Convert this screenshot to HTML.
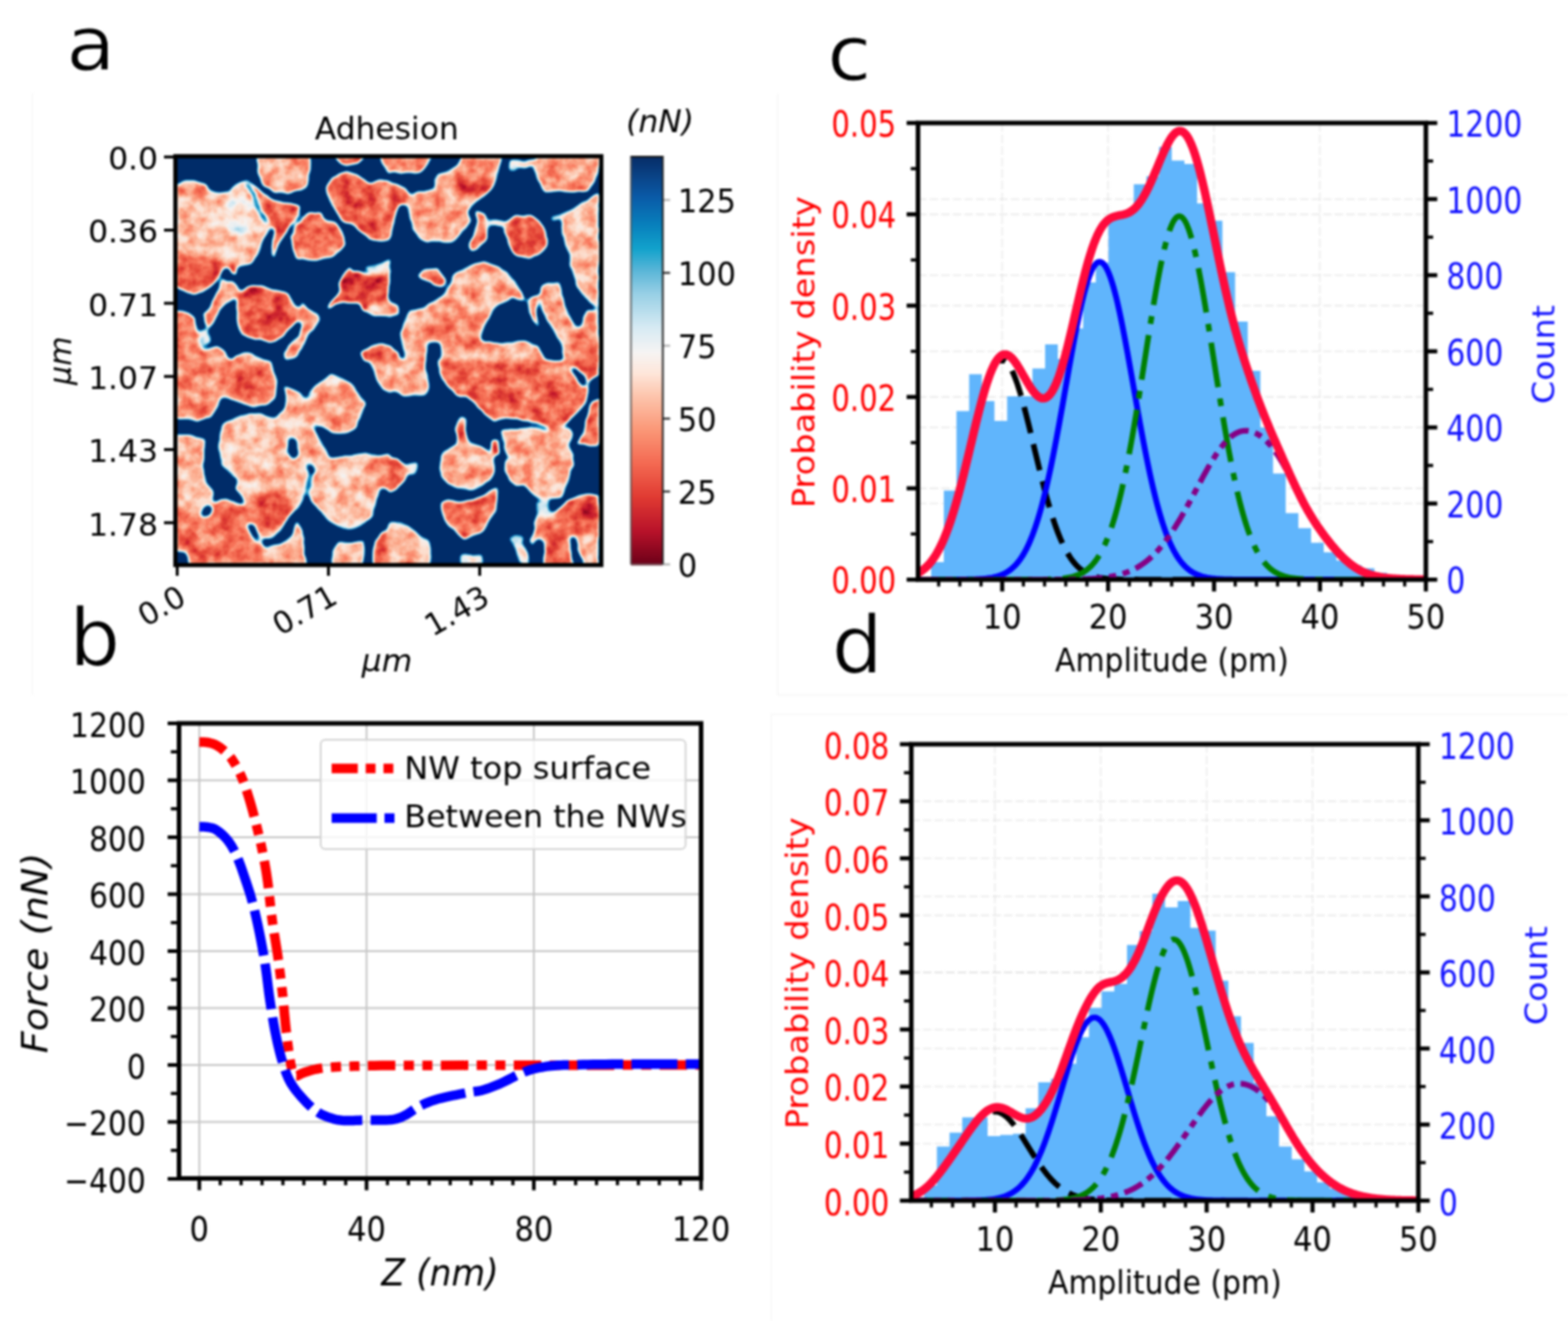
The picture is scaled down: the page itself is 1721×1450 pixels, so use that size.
<!DOCTYPE html>
<html lang="en"><head><meta charset="utf-8"><title>Figure</title>
<style>
html,body{margin:0;padding:0;background:#fff;}
body{width:1721px;height:1450px;overflow:hidden;font-family:'DejaVu Sans','Liberation Sans',sans-serif;}
svg{display:block;filter:blur(0.8px);}
</style></head><body>
<svg width="1721" height="1450" viewBox="0 0 1721 1450">
<g id="panel-borders" fill="none" stroke="#f6f6f6" stroke-width="1.5"><path d="M35.5 762.5 L35.5 102.5 M853.6 102.5 L853.6 762.7 L1721 762.7 M1721 784.2 L846.5 784.2 L846.5 1450"/></g>
<g id="panel-a">
<text transform="translate(72.7,77) scale(1,0.94)" font-family="'DejaVu Sans','Liberation Sans',sans-serif" font-size="88" text-anchor="start" fill="#000" stroke="#fff" stroke-width="1">a</text>
<rect x="193" y="172" width="466.5" height="447.5" fill="#08306b"/>
<defs>
<filter id="hm" x="0" y="0" width="100%" height="100%" filterUnits="objectBoundingBox" color-interpolation-filters="sRGB">
<feColorMatrix in="SourceGraphic" type="matrix" values="1 0 0 0 0  1 0 0 0 0  1 0 0 0 0  0 0 0 0 1" result="v0"/>
<feGaussianBlur in="v0" stdDeviation="3.2" result="v"/>
<feColorMatrix in="SourceGraphic" type="matrix" values="0 1 0 0 0  0 1 0 0 0  0 1 0 0 0  0 0 0 0 1" result="m0"/>
<feTurbulence type="fractalNoise" baseFrequency="0.045" numOctaves="3" seed="7" result="dn"/>
<feDisplacementMap in="m0" in2="dn" scale="6" xChannelSelector="R" yChannelSelector="G" result="m1"/>
<feColorMatrix in="m1" type="matrix" values="1 0 0 0 0  1 0 0 0 0  1 0 0 0 0  0 0 0 0 1" result="m2"/>
<feGaussianBlur in="m2" stdDeviation="2.3" result="m"/>
<feTurbulence type="fractalNoise" baseFrequency="0.07" numOctaves="3" seed="11" result="tn"/>
<feColorMatrix in="tn" type="matrix" values="1 0 0 0 0  1 0 0 0 0  1 0 0 0 0  0 0 0 0 1" result="n"/>
<feComposite in="v" in2="n" operator="arithmetic" k1="0" k2="1" k3="0.23" k4="-0.115" result="vn"/>
<feComposite in="vn" in2="m" operator="arithmetic" k1="1" k2="0" k3="-1" k4="1" result="g"/>
<feComponentTransfer in="g">
<feFuncR type="table" tableValues="0.424 0.753 0.894 0.976 0.988 0.992 0.969 0.831 0.573 0.180 0.031 0.039 0.016 0.000 0.000 0.000 0.000 0.000 0.000 0.000 0.000"/>
<feFuncG type="table" tableValues="0.000 0.078 0.271 0.471 0.682 0.863 0.953 0.914 0.804 0.651 0.486 0.322 0.180 0.176 0.176 0.176 0.176 0.176 0.176 0.176 0.176"/>
<feFuncB type="table" tableValues="0.094 0.165 0.212 0.361 0.565 0.796 0.945 0.953 0.894 0.812 0.729 0.627 0.416 0.412 0.412 0.412 0.412 0.412 0.412 0.412 0.412"/>
</feComponentTransfer>
</filter>
<clipPath id="cliph"><rect x="193" y="172" width="466.5" height="447.5"/></clipPath>
<path id="hb0" d="M281.8,172 341.3,172 339.7,189 336.7,201.3 328.9,208.3 315,212.2 301.1,209.8 288.8,202.9 283.4,190.5Z"/>
<path id="hb1" d="M367.5,172 400,172 392.3,179 379.9,181.3 372.2,179Z"/>
<path id="hb2" d="M417,172 427,172 427,189 421.6,181.3Z"/>
<path id="hb3" d="M193,202.9 202.3,199.8 213.1,198.3 223.9,202.9 230.1,210.6 239.3,213.7 251.7,212.2 259.4,202.9 268.7,199 273.3,198.3 274.9,206 279.5,216.8 285.7,230.7 290.3,241.5 294.9,249.2 291.9,258.5 285.7,267.8 282.6,277 273.3,289.4 261,292.5 259.4,300.2 239.3,295.6 223.9,287.8 208.4,284.8 193,283.2Z"/>
<path id="hb4" d="M270.2,199 276.4,202.9 288.8,213.7 301.1,219.9 316.6,224.5 328.9,227.6 327.4,236.9 316.6,249.2 311.9,255.4 307.3,264.7 301.1,283.2 298.8,280.1 301.1,264.7 302.7,252.3 294.9,244.6 285.7,232.2 279.5,219.9 273.3,209.1Z"/>
<path id="hb5" d="M193,283.2 223.9,286.3 244,289.4 257.9,292.5 259.4,300.2 244,295.6 240.9,303.3 234.7,311 223.9,318.7 213.1,321.8 202.3,318.7 193,315.7Z"/>
<path id="hb6" d="M321.2,246.1 332,240 341.3,233.8 350.6,233.8 356.7,241.5 366,244.6 373.7,253.9 378.4,267.8 370.6,275.5 362.9,281.7 347.5,284.8 327.4,283.2 322.7,272.4 318.1,258.5Z"/>
<path id="hb7" d="M361.4,199.8 370.6,192.1 381.4,189.8 392.3,193.6 406.2,202.9 415.4,196.7 427,198.3 427,264.7 417,263.1 406.2,261.6 398.4,255.4 386.1,246.1 376.8,243.1 367.5,230.7 361.4,218.3 359.8,207.5Z"/>
<path id="hb8" d="M244,307.9 254.8,307.9 259.4,312.6 261,320.3 254.8,328 247.1,332.6 239.3,341.9 233.2,354.3 228.5,360.4 223.9,349.6 222.3,345 233.2,334.2 239.3,321.8Z"/>
<path id="hb9" d="M261,323.4 273.3,315.7 285.7,314.1 301.1,318.7 316.6,323.4 325.8,335.7 330.5,348.1 321.2,357.4 310.4,368.2 296.5,374.3 279.5,371.3 265.6,366.6 261,351.2 259.4,335.7Z"/>
<path id="hb10" d="M373.7,307.9 378.4,300.2 384.5,294 387.6,300.2 393.8,300.2 412.3,301.7 427,294 427,346.5 409.2,345 398.4,340.4 393.8,332.6 375.3,331.1 359.8,338.8 369.1,328 375.3,318.7 372.2,311Z"/>
<path id="hb11" d="M401.5,292.5 427,286.3 427,295.6 409.2,300.2Z"/>
<path id="hb12" d="M332,332.6 336.7,340.4 347.5,345 350.6,351.2 341.3,362 335.1,371.3 332,382.1 324.3,392.9 313.5,394.4 311.9,388.2 319.7,377.4 328.9,369.7 332,357.4 328.9,346.5Z"/>
<path id="hb13" d="M193,341.9 205.4,343.5 213.1,351.2 217.7,365.1 219.3,380.5 223.9,385.2 237.8,380.5 247.1,385.2 251.7,396 193,396Z"/>
<path id="hb14" d="M398.4,386.7 409.2,379 420.1,377.4 427,380.5 427,396 400,396Z"/>
<path id="hb15" d="M257.9,391.3 270.2,388.2 282.6,391.3 288.8,396 254.8,396Z"/>
<path id="hb16" d="M222.3,362 228.5,363.5 230.1,375.9 223.9,379Z"/>
<path id="hb17" d="M427,172 474.9,172 470.2,179.7 462.5,187.4 442.4,189 427,187.4Z"/>
<path id="hb18" d="M427,201.3 436.3,202.9 447.1,209.1 450.2,218.3 445.5,224.5 436.3,223 433.2,233.8 431.6,249.2 427,263.1Z"/>
<path id="hb19" d="M450.2,218.3 457.9,210.6 470.2,210.6 479.5,207.5 478,198.3 482.6,192.1 491.9,189 504.2,181.3 507.3,172 550.6,172 545.9,187.4 541.3,202.9 535.1,212.2 525.9,218.3 519.7,223 513.5,230.7 516.6,240 510.4,250.8 501.1,261.6 493.4,266.2 478,264.7 468.7,266.2 461,260 453.3,249.2 448.6,236.9 447.1,226.1Z"/>
<path id="hb20" d="M523.5,230.7 532,235.3 535.9,249.2 534.4,261.6 524.3,273.2 517.4,276.3 514.3,270.9 521.2,260 523.5,249.2 525.1,240Z"/>
<path id="hb21" d="M559.8,176.6 566,175.9 575.3,178.2 581.5,175.1 587.6,174.3 581.5,182.8 575.3,184.4 569.1,182.8 566,187.4 559.8,187.4Z"/>
<path id="hb22" d="M590.7,172 657.2,172 657.2,189 649.4,202.9 646.3,209.1 627.8,210.6 612.4,209.1 600,210.6 593.8,204.4 589.2,195.2 586.1,184.4Z"/>
<path id="hb23" d="M555.2,244.6 562.9,238.4 572.2,236.9 583,236.9 590.7,243.1 598.5,252.3 601.5,263.1 598.5,270.9 590.7,278.6 581.5,283.2 569.1,281.7 562.9,277 558.3,266.2 553.7,255.4Z"/>
<path id="hb24" d="M535.1,243.8 555.2,243.8 555.2,247.7 535.1,247.7Z"/>
<path id="hb25" d="M657.2,212.2 643.2,221.4 627.8,230.7 618.5,233.8 617,249.2 620.1,264.7 624.7,280.1 627.8,295.6 634,311 640.2,323.4 647.9,331.1 657.2,335.7Z"/>
<path id="hb26" d="M604.6,238.4 618.5,233.8 618.5,236.9 606.2,241.5Z"/>
<path id="hb27" d="M457.9,303.3 465.6,295.6 481.1,295.6 484.2,301.7 488.8,307.2 488,311.8 484.2,314.9 476.4,312.6 473.3,307.9 464.1,306.4Z"/>
<path id="hb28" d="M499.6,300.2 513.5,294 522.8,290.9 535.1,287.8 544.4,292.5 558.3,298.7 566,307.9 570.7,320.3 575.3,329.6 566,328 562.9,324.9 558.3,329.6 544.4,332.6 538.2,338.8 533.6,352.7 528.9,365.1 525.9,372.8 532,375.9 547.5,377.4 566,375.9 581.5,375.9 589.2,379 593.8,388.2 596.9,396 484.2,396 484.2,375.9 468.7,375.9 465.6,396 447.1,396 442.4,380.5 440.9,365.1 445.5,351.2 450.2,341.9 465.6,337.3 478,331.1 488.8,320.3 496.5,311Z"/>
<path id="hb29" d="M427,332.6 436.3,335.7 437.8,346.5 427,348.1Z"/>
<path id="hb30" d="M427,379 436.3,388.2 439.4,396 427,396Z"/>
<path id="hb31" d="M581.5,326.5 589.2,324.9 587.6,341.9 590.7,357.4 581.5,341.9 579.9,332.6Z"/>
<path id="hb32" d="M593.8,314.1 601.5,311 612.4,311 617,326.5 621.6,341.9 627.8,354.3 634,358.9 638.6,354.3 643.2,341.9 657.2,338.8 657.2,396 620.1,396 617,380.5 609.3,365.1 600,349.6 593.8,334.2 592.3,323.4Z"/>
<path id="hb33" d="M193,396 298,396 301.1,408.4 304.2,422.3 301.1,436.2 291.9,443.9 279.5,445.4 265.6,442.3 254.8,437.7 242.4,434.6 237.8,445.4 231.6,457.8 216.2,462.4 205.4,460.9 193,457.8Z"/>
<path id="hb34" d="M193,476.3 208.4,477.9 223.9,482.5 222.3,496.4 222.3,511.8 225.4,530.4 233.2,542.7 231.6,553.6 223.9,562.8 208.4,567.5 193,565.9Z"/>
<path id="hb35" d="M244,467.1 257.9,460.9 270.2,454.7 285.7,453.2 301.1,460.9 313.5,448.5 315,431.5 328.9,433.1 338.2,442.3 341.3,460.9 347.5,476.3 355.2,491.8 361.4,504.1 347.5,508.8 341.3,519.6 338.2,535 332,548.9 325.8,558.2 316.6,569 307.3,581.4 298,589.1 285.7,593.7 279.5,581.4 273.3,562.8 267.1,547.4 261,535 262.5,524.2 244,510.3 239.3,494.9 242.4,479.4Z"/>
<path id="hb36" d="M311.9,423.8 316.6,426.9 328.9,433.1 315,434.6Z"/>
<path id="hb37" d="M338.2,431.5 347.5,422.3 362.9,409.9 375.3,414.5 386.1,422.3 393.8,433.1 400,442.3 395.3,457.8 390.7,468.6 378.4,474.8 362.9,476.3 353.6,468.6 341.3,460.9 336.7,447Z"/>
<path id="hb38" d="M406.2,396 427,396 427,431.5 420.1,428.4 412.3,414.5Z"/>
<path id="hb39" d="M361.4,504.1 378.4,501 401.5,497.9 427,499.5 427,539.7 420.1,535 415.4,538.1 412.3,550.5 409.2,565.9 400,573.6 390.7,578.3 375.3,579.8 362.9,572.1 353.6,562.8 345.9,553.6 338.2,544.3 341.3,528.8 345.9,518 347.5,508.8Z"/>
<path id="hb40" d="M193,567.5 208.4,567.5 223.9,564.4 233.2,552 250.2,548.9 262.5,553.6 271.8,558.2 276.4,570.5 279.5,581.4 285.7,593.7 291.9,603 298,620 206.9,620 205.4,606.1 193,603Z"/>
<path id="hb41" d="M298,596.8 310.4,593.7 321.2,586 327.4,573.6 332,589.1 335.1,620 298,620 291.9,603Z"/>
<path id="hb42" d="M364.5,620 366,603 372.2,595.3 386.1,596.8 398.4,595.3 400,604.5 396.9,620Z"/>
<path id="hb43" d="M409.2,620 412.3,593.7 420.1,584.4 427,582.9 427,620Z"/>
<path id="hb44" d="M427,396 465.6,396 468.7,411.4 470.2,426.9 465.6,434.6 454.8,433.1 442.4,434.6 433.2,430 427,430Z"/>
<path id="hb45" d="M479.5,396 657.2,396 657.2,411.4 646.3,419.2 643.2,434.6 640.2,445.4 630.9,454.7 621.6,464 612.4,470.1 596.9,467.1 581.5,462.4 566,457.8 553.7,459.3 541.3,462.4 532,454.7 522.8,442.3 513.5,434.6 501.1,433.1 491.9,423.8 484.2,411.4Z"/>
<path id="hb46" d="M649.4,442.3 657.2,439.2 657.2,488.7 634,487.1 641.7,468.6 646.3,457.8Z"/>
<path id="hb47" d="M550.6,471.7 566,470.1 581.5,470.1 596.9,473.2 612.4,471.7 624.7,470.1 627.8,479.4 621.6,488.7 627.8,497.9 629.3,510.3 624.7,522.7 620.1,535 617,544.3 606.2,545.8 596.9,550.5 590.7,547.4 581.5,538.1 575.3,530.4 566,531.9 559.8,527.3 553.7,516.5 555.2,507.2 561.4,504.1 555.2,494.9 552.1,482.5Z"/>
<path id="hb48" d="M484.2,497.9 491.9,493.3 501.1,488.7 502.7,479.4 501.1,471.7 504.2,457.8 510.4,459.3 512,476.3 515,485.6 525.9,490.2 535.1,494.9 541.3,504.1 541.3,518 538.2,527.3 525.9,533.5 513.5,536.6 501.1,535 491.9,530.4 485.7,522.7 482.6,511.8Z"/>
<path id="hb49" d="M541.3,482.5 545.9,484 547.5,497.9 542.8,501 540.5,491.8Z"/>
<path id="hb50" d="M427,502.6 436.3,504.1 444,510.3 448.6,519.6 442.4,528.8 433.2,538.1 427,541.2Z"/>
<path id="hb51" d="M448.6,508.8 457.9,507.2 457.9,519.6 450.2,521.1Z"/>
<path id="hb52" d="M484.2,552 491.9,548.9 504.2,552 516.6,548.9 532,542.7 545.9,536.6 544.4,550.5 541.3,562.8 535.1,575.2 527.4,584.4 516.6,587.5 508.9,592.2 501.1,584.4 491.9,575.2 485.7,564.4Z"/>
<path id="hb53" d="M427,575.2 436.3,573.6 448.6,578.3 461,587.5 471.8,593.7 473.3,604.5 471.8,620 427,620Z"/>
<path id="hb54" d="M590.7,565.9 601.5,564.4 612.4,559.7 621.6,550.5 634,544.3 646.3,542.7 657.2,544.3 657.2,620 596.9,620 598.5,596.8 590.7,581.4 587.6,573.6Z"/>
<path id="hb55" d="M559.8,592.2 566,587.5 573.7,589.1 572.2,596.8 578.4,604.5 581.5,620 573.7,620 566,604.5Z"/>
<path id="hb56" d="M505.8,609.2 513.5,607.6 527.4,609.2 528.9,620 505.8,620Z"/>
<path id="hb57" d="M589.2,565.9 595.4,564.4 601.5,569 593.8,584.4 584.6,596.8 581.5,592.2 587.6,581.4Z"/>
<path id="hb58" d="M589.2,553.6 601.5,550.5 603.1,562.8 595.4,564.4 590.7,562.8Z"/>
</defs>
<g clip-path="url(#cliph)"><g filter="url(#hm)">
<rect x="163" y="142" width="526.5" height="507.5" fill="rgb(41,0,0)"/>
<use href="#hb0" fill="rgb(51,0,0)" stroke="rgb(51,0,0)" stroke-width="6"/>
<use href="#hb1" fill="rgb(27,0,0)" stroke="rgb(27,0,0)" stroke-width="6"/>
<use href="#hb2" fill="rgb(49,0,0)" stroke="rgb(49,0,0)" stroke-width="6"/>
<use href="#hb3" fill="rgb(57,0,0)" stroke="rgb(57,0,0)" stroke-width="6"/>
<use href="#hb4" fill="rgb(31,0,0)" stroke="rgb(31,0,0)" stroke-width="6"/>
<use href="#hb5" fill="rgb(31,0,0)" stroke="rgb(31,0,0)" stroke-width="6"/>
<use href="#hb6" fill="rgb(36,0,0)" stroke="rgb(36,0,0)" stroke-width="6"/>
<use href="#hb7" fill="rgb(33,0,0)" stroke="rgb(33,0,0)" stroke-width="6"/>
<use href="#hb8" fill="rgb(47,0,0)" stroke="rgb(47,0,0)" stroke-width="6"/>
<use href="#hb9" fill="rgb(30,0,0)" stroke="rgb(30,0,0)" stroke-width="6"/>
<use href="#hb10" fill="rgb(22,0,0)" stroke="rgb(22,0,0)" stroke-width="6"/>
<use href="#hb11" fill="rgb(76,0,0)" stroke="rgb(76,0,0)" stroke-width="6"/>
<use href="#hb12" fill="rgb(49,0,0)" stroke="rgb(49,0,0)" stroke-width="6"/>
<use href="#hb13" fill="rgb(39,0,0)" stroke="rgb(39,0,0)" stroke-width="6"/>
<use href="#hb14" fill="rgb(31,0,0)" stroke="rgb(31,0,0)" stroke-width="6"/>
<use href="#hb15" fill="rgb(44,0,0)" stroke="rgb(44,0,0)" stroke-width="6"/>
<use href="#hb16" fill="rgb(79,0,0)" stroke="rgb(79,0,0)" stroke-width="6"/>
<use href="#hb17" fill="rgb(44,0,0)" stroke="rgb(44,0,0)" stroke-width="6"/>
<use href="#hb18" fill="rgb(33,0,0)" stroke="rgb(33,0,0)" stroke-width="6"/>
<use href="#hb19" fill="rgb(49,0,0)" stroke="rgb(49,0,0)" stroke-width="6"/>
<use href="#hb20" fill="rgb(37,0,0)" stroke="rgb(37,0,0)" stroke-width="6"/>
<use href="#hb21" fill="rgb(76,0,0)" stroke="rgb(76,0,0)" stroke-width="6"/>
<use href="#hb22" fill="rgb(47,0,0)" stroke="rgb(47,0,0)" stroke-width="6"/>
<use href="#hb23" fill="rgb(27,0,0)" stroke="rgb(27,0,0)" stroke-width="6"/>
<use href="#hb24" fill="rgb(72,0,0)" stroke="rgb(72,0,0)" stroke-width="6"/>
<use href="#hb25" fill="rgb(54,0,0)" stroke="rgb(54,0,0)" stroke-width="6"/>
<use href="#hb26" fill="rgb(76,0,0)" stroke="rgb(76,0,0)" stroke-width="6"/>
<use href="#hb27" fill="rgb(42,0,0)" stroke="rgb(42,0,0)" stroke-width="6"/>
<use href="#hb28" fill="rgb(51,0,0)" stroke="rgb(51,0,0)" stroke-width="6"/>
<use href="#hb29" fill="rgb(39,0,0)" stroke="rgb(39,0,0)" stroke-width="6"/>
<use href="#hb30" fill="rgb(39,0,0)" stroke="rgb(39,0,0)" stroke-width="6"/>
<use href="#hb31" fill="rgb(38,0,0)" stroke="rgb(38,0,0)" stroke-width="6"/>
<use href="#hb32" fill="rgb(51,0,0)" stroke="rgb(51,0,0)" stroke-width="6"/>
<use href="#hb33" fill="rgb(44,0,0)" stroke="rgb(44,0,0)" stroke-width="6"/>
<use href="#hb34" fill="rgb(54,0,0)" stroke="rgb(54,0,0)" stroke-width="6"/>
<use href="#hb35" fill="rgb(57,0,0)" stroke="rgb(57,0,0)" stroke-width="6"/>
<use href="#hb36" fill="rgb(44,0,0)" stroke="rgb(44,0,0)" stroke-width="6"/>
<use href="#hb37" fill="rgb(47,0,0)" stroke="rgb(47,0,0)" stroke-width="6"/>
<use href="#hb38" fill="rgb(49,0,0)" stroke="rgb(49,0,0)" stroke-width="6"/>
<use href="#hb39" fill="rgb(57,0,0)" stroke="rgb(57,0,0)" stroke-width="6"/>
<use href="#hb40" fill="rgb(39,0,0)" stroke="rgb(39,0,0)" stroke-width="6"/>
<use href="#hb41" fill="rgb(51,0,0)" stroke="rgb(51,0,0)" stroke-width="6"/>
<use href="#hb42" fill="rgb(54,0,0)" stroke="rgb(54,0,0)" stroke-width="6"/>
<use href="#hb43" fill="rgb(33,0,0)" stroke="rgb(33,0,0)" stroke-width="6"/>
<use href="#hb44" fill="rgb(51,0,0)" stroke="rgb(51,0,0)" stroke-width="6"/>
<use href="#hb45" fill="rgb(35,0,0)" stroke="rgb(35,0,0)" stroke-width="6"/>
<use href="#hb46" fill="rgb(31,0,0)" stroke="rgb(31,0,0)" stroke-width="6"/>
<use href="#hb47" fill="rgb(51,0,0)" stroke="rgb(51,0,0)" stroke-width="6"/>
<use href="#hb48" fill="rgb(51,0,0)" stroke="rgb(51,0,0)" stroke-width="6"/>
<use href="#hb49" fill="rgb(24,0,0)" stroke="rgb(24,0,0)" stroke-width="6"/>
<use href="#hb50" fill="rgb(33,0,0)" stroke="rgb(33,0,0)" stroke-width="6"/>
<use href="#hb51" fill="rgb(74,0,0)" stroke="rgb(74,0,0)" stroke-width="6"/>
<use href="#hb52" fill="rgb(35,0,0)" stroke="rgb(35,0,0)" stroke-width="6"/>
<use href="#hb53" fill="rgb(54,0,0)" stroke="rgb(54,0,0)" stroke-width="6"/>
<use href="#hb54" fill="rgb(33,0,0)" stroke="rgb(33,0,0)" stroke-width="6"/>
<use href="#hb55" fill="rgb(76,0,0)" stroke="rgb(76,0,0)" stroke-width="6"/>
<use href="#hb56" fill="rgb(76,0,0)" stroke="rgb(76,0,0)" stroke-width="6"/>
<use href="#hb57" fill="rgb(44,0,0)" stroke="rgb(44,0,0)" stroke-width="6"/>
<use href="#hb58" fill="rgb(93,0,0)" stroke="rgb(93,0,0)" stroke-width="6"/>
<ellipse cx="208.4" cy="209.1" rx="15.4" ry="8.5" fill="rgb(39,0,0)"/>
<ellipse cx="262.5" cy="236.9" rx="20.1" ry="23.2" fill="rgb(74,0,0)"/>
<ellipse cx="415.4" cy="338.8" rx="12.4" ry="7" fill="rgb(70,0,0)"/>
<ellipse cx="519.7" cy="201.3" rx="20.1" ry="13.9" fill="rgb(31,0,0)"/>
<ellipse cx="496.5" cy="365.1" rx="30.9" ry="20.1" fill="rgb(42,0,0)"/>
<ellipse cx="640.2" cy="377.4" rx="15.4" ry="15.4" fill="rgb(38,0,0)"/>
<ellipse cx="273.3" cy="422.3" rx="23.2" ry="17" fill="rgb(31,0,0)"/>
<ellipse cx="298" cy="558.2" rx="23.2" ry="20.1" fill="rgb(27,0,0)"/>
<ellipse cx="339.7" cy="494.9" rx="10.8" ry="9.3" fill="rgb(38,0,0)"/>
<ellipse cx="367.5" cy="419.2" rx="9.3" ry="4.6" fill="rgb(93,0,0)"/>
<ellipse cx="341.3" cy="433.1" rx="6.2" ry="4.6" fill="rgb(93,0,0)"/>
<ellipse cx="413.9" cy="516.5" rx="13.9" ry="13.9" fill="rgb(42,0,0)"/>
<ellipse cx="251.7" cy="564.4" rx="18.5" ry="7.7" fill="rgb(31,0,0)"/>
<ellipse cx="213.1" cy="593.7" rx="7.7" ry="12.4" fill="rgb(31,0,0)"/>
<ellipse cx="612.4" cy="416.1" rx="18.5" ry="12.4" fill="rgb(39,0,0)"/>
<ellipse cx="506.5" cy="473.2" rx="5.9" ry="8.5" fill="rgb(9,0,0)"/>
<ellipse cx="641.7" cy="558.2" rx="7.7" ry="7.7" fill="rgb(16,0,0)"/>
<ellipse cx="646.3" cy="601.4" rx="10.8" ry="17" fill="rgb(57,0,0)"/>
<g style="mix-blend-mode:lighten" fill="rgb(0,255,0)" stroke="rgb(0,255,0)" stroke-width="3.8" stroke-linejoin="round">
<use href="#hb0"/>
<use href="#hb1"/>
<use href="#hb2"/>
<use href="#hb3"/>
<use href="#hb4"/>
<use href="#hb5"/>
<use href="#hb6"/>
<use href="#hb7"/>
<use href="#hb8"/>
<use href="#hb9"/>
<use href="#hb10"/>
<use href="#hb11"/>
<use href="#hb12"/>
<use href="#hb13"/>
<use href="#hb14"/>
<use href="#hb15"/>
<use href="#hb16"/>
<use href="#hb17"/>
<use href="#hb18"/>
<use href="#hb19"/>
<use href="#hb20"/>
<use href="#hb21"/>
<use href="#hb22"/>
<use href="#hb23"/>
<use href="#hb24"/>
<use href="#hb25"/>
<use href="#hb26"/>
<use href="#hb27"/>
<use href="#hb28"/>
<use href="#hb29"/>
<use href="#hb30"/>
<use href="#hb31"/>
<use href="#hb32"/>
<use href="#hb33"/>
<use href="#hb34"/>
<use href="#hb35"/>
<use href="#hb36"/>
<use href="#hb37"/>
<use href="#hb38"/>
<use href="#hb39"/>
<use href="#hb40"/>
<use href="#hb41"/>
<use href="#hb42"/>
<use href="#hb43"/>
<use href="#hb44"/>
<use href="#hb45"/>
<use href="#hb46"/>
<use href="#hb47"/>
<use href="#hb48"/>
<use href="#hb49"/>
<use href="#hb50"/>
<use href="#hb51"/>
<use href="#hb52"/>
<use href="#hb53"/>
<use href="#hb54"/>
<use href="#hb55"/>
<use href="#hb56"/>
<use href="#hb57"/>
<use href="#hb58"/>
</g>
<g style="mix-blend-mode:darken" fill="rgb(255,0,255)">
<path d="M245.5,297.1 251.7,295.6 254.8,303.3 251.7,307.9 246.3,306.4Z"/>
<path d="M317.3,250 328.2,238.1 331.2,240.3 322,246.5 319.4,257.7 315,256.6Z"/>
<path d="M269,201 271.2,200.1 279.5,218.3 287.2,233 293.7,244.3 291.9,245.5 285.1,234.1 277.3,219.3Z"/>
<path d="M318.1,482.5 324.3,482.5 325.8,497.9 321.2,504.1 316.6,496.4Z"/>
<path d="M336.7,510.3 342.8,511.8 345.9,518 341.3,519.6Z"/>
<path d="M340,518.8 342.2,519.6 339.1,535 334.5,550.5 332.6,549.7 337.3,534.2Z"/>
<path d="M222.3,559.7 230.1,553.6 231.6,559.7 227,565.9 220.8,567.5Z"/>
<path d="M271.8,576.7 276.4,576.7 282.6,586 285.7,595.3 281,592.2 274.9,582.9Z"/>
<path d="M288.8,592.2 301.1,589.1 313.5,578.3 319.7,567.5 322.7,575.2 319.7,586 310.4,593.7 298,596.8 290.3,596.8Z"/>
<path d="M626.3,403.7 632.4,405.3 641.7,413 643.2,422.3 638.6,422.3 632.4,413Z"/>
<path d="M627.8,589.1 632.4,590.6 634,604.5 640.2,620 629.3,620Z"/>
</g>
</g></g>
<rect x="192.5" y="171.5" width="467.5" height="448.7" fill="none" stroke="#000" stroke-width="4.6"/>
<text transform="translate(424.5,153.3)" font-family="'DejaVu Sans','Liberation Sans',sans-serif" font-size="34.4" text-anchor="middle" fill="#000">Adhesion</text>
<text transform="translate(724.5,144.5)" font-family="'DejaVu Sans','Liberation Sans',sans-serif" font-size="34.4" text-anchor="middle" fill="#000" font-style="italic">(nN)</text>
<line x1="180" y1="172.3" x2="193" y2="172.3" stroke="#000" stroke-width="3.2"/>
<text transform="translate(173.5,186.1)" font-family="'DejaVu Sans','Liberation Sans',sans-serif" font-size="34.5" text-anchor="end" fill="#000">0.0</text>
<line x1="180" y1="252.6" x2="193" y2="252.6" stroke="#000" stroke-width="3.2"/>
<text transform="translate(173.5,266.4)" font-family="'DejaVu Sans','Liberation Sans',sans-serif" font-size="34.5" text-anchor="end" fill="#000">0.36</text>
<line x1="180" y1="332.9" x2="193" y2="332.9" stroke="#000" stroke-width="3.2"/>
<text transform="translate(173.5,346.7)" font-family="'DejaVu Sans','Liberation Sans',sans-serif" font-size="34.5" text-anchor="end" fill="#000">0.71</text>
<line x1="180" y1="413.2" x2="193" y2="413.2" stroke="#000" stroke-width="3.2"/>
<text transform="translate(173.5,427)" font-family="'DejaVu Sans','Liberation Sans',sans-serif" font-size="34.5" text-anchor="end" fill="#000">1.07</text>
<line x1="180" y1="493.5" x2="193" y2="493.5" stroke="#000" stroke-width="3.2"/>
<text transform="translate(173.5,507.3)" font-family="'DejaVu Sans','Liberation Sans',sans-serif" font-size="34.5" text-anchor="end" fill="#000">1.43</text>
<line x1="180" y1="573.8" x2="193" y2="573.8" stroke="#000" stroke-width="3.2"/>
<text transform="translate(173.5,587.6)" font-family="'DejaVu Sans','Liberation Sans',sans-serif" font-size="34.5" text-anchor="end" fill="#000">1.78</text>
<line x1="194.5" y1="619.5" x2="194.5" y2="632" stroke="#000" stroke-width="3.2"/>
<text transform="translate(177,664.5) rotate(-30)" font-family="'DejaVu Sans','Liberation Sans',sans-serif" font-size="33.5" text-anchor="middle" fill="#000" dy="0.365em">0.0</text>
<line x1="360.5" y1="619.5" x2="360.5" y2="632" stroke="#000" stroke-width="3.2"/>
<text transform="translate(334,669) rotate(-30)" font-family="'DejaVu Sans','Liberation Sans',sans-serif" font-size="33.5" text-anchor="middle" fill="#000" dy="0.365em">0.71</text>
<line x1="526.5" y1="619.5" x2="526.5" y2="632" stroke="#000" stroke-width="3.2"/>
<text transform="translate(501,670) rotate(-30)" font-family="'DejaVu Sans','Liberation Sans',sans-serif" font-size="33.5" text-anchor="middle" fill="#000" dy="0.365em">1.43</text>
<text transform="translate(66.8,396) rotate(-90)" font-family="'DejaVu Sans','Liberation Sans',sans-serif" font-size="33" text-anchor="middle" fill="#000" font-style="italic" dy="0.35em">µm</text>
<text transform="translate(424.8,737.2)" font-family="'DejaVu Sans','Liberation Sans',sans-serif" font-size="34.4" text-anchor="middle" fill="#000" font-style="italic">µm</text>
<defs><linearGradient id="cb" x1="0" y1="1" x2="0" y2="0">
<stop offset="0" stop-color="#6a0018"/>
<stop offset="0.083" stop-color="#b8122a"/>
<stop offset="0.166" stop-color="#e03a32"/>
<stop offset="0.25" stop-color="#f46a52"/>
<stop offset="0.333" stop-color="#fb9878"/>
<stop offset="0.416" stop-color="#fdc6ae"/>
<stop offset="0.47" stop-color="#fee6da"/>
<stop offset="0.52" stop-color="#f6f4f3"/>
<stop offset="0.583" stop-color="#d6eaf3"/>
<stop offset="0.666" stop-color="#96cfe5"/>
<stop offset="0.72" stop-color="#5bb6d8"/>
<stop offset="0.775" stop-color="#12a2cc"/>
<stop offset="0.833" stop-color="#0880bc"/>
<stop offset="0.90" stop-color="#0a5ba8"/>
<stop offset="0.95" stop-color="#0a4488"/>
<stop offset="1" stop-color="#062c66"/>
</linearGradient></defs>
<rect x="692.5" y="172" width="34.5" height="448.5" fill="url(#cb)"/>
<path d="M692.5 619.5 L692.5 172 L727.5 172" fill="none" stroke="#444" stroke-width="2" stroke-opacity="0.75"/>
<path d="M692.5 172 L727.5 172 L727.5 619.5" fill="none" stroke="#111" stroke-width="2" stroke-opacity="0.9"/>
<path d="M692.5 619.5 L727.5 619.5" fill="none" stroke="#777" stroke-width="2" stroke-opacity="0.6"/>
<line x1="727.5" y1="619.5" x2="735.5" y2="619.5" stroke="#222" stroke-width="2.2" stroke-opacity="0.35"/>
<text transform="translate(744,632.9) scale(0.96,1)" font-family="'DejaVu Sans','Liberation Sans',sans-serif" font-size="34.8" text-anchor="start" fill="#000">0</text>
<line x1="727.5" y1="539.5" x2="735.5" y2="539.5" stroke="#222" stroke-width="2.2" stroke-opacity="0.95"/>
<text transform="translate(744,552.9) scale(0.96,1)" font-family="'DejaVu Sans','Liberation Sans',sans-serif" font-size="34.8" text-anchor="start" fill="#000">25</text>
<line x1="727.5" y1="459.5" x2="735.5" y2="459.5" stroke="#222" stroke-width="2.2" stroke-opacity="0.95"/>
<text transform="translate(744,472.9) scale(0.96,1)" font-family="'DejaVu Sans','Liberation Sans',sans-serif" font-size="34.8" text-anchor="start" fill="#000">50</text>
<line x1="727.5" y1="379.5" x2="735.5" y2="379.5" stroke="#222" stroke-width="2.2" stroke-opacity="0.35"/>
<text transform="translate(744,392.9) scale(0.96,1)" font-family="'DejaVu Sans','Liberation Sans',sans-serif" font-size="34.8" text-anchor="start" fill="#000">75</text>
<line x1="727.5" y1="299.5" x2="735.5" y2="299.5" stroke="#222" stroke-width="2.2" stroke-opacity="0.95"/>
<text transform="translate(744,312.9) scale(0.96,1)" font-family="'DejaVu Sans','Liberation Sans',sans-serif" font-size="34.8" text-anchor="start" fill="#000">100</text>
<line x1="727.5" y1="219.5" x2="735.5" y2="219.5" stroke="#222" stroke-width="2.2" stroke-opacity="0.35"/>
<text transform="translate(744,232.9) scale(0.96,1)" font-family="'DejaVu Sans','Liberation Sans',sans-serif" font-size="34.8" text-anchor="start" fill="#000">125</text>
</g>
<g id="panel-b">
<text transform="translate(76,729.8)" font-family="'DejaVu Sans','Liberation Sans',sans-serif" font-size="88" text-anchor="start" fill="#000" stroke="#fff" stroke-width="1">b</text>
<line x1="218.75" y1="794" x2="218.75" y2="1293.5" stroke="#c6c6c6" stroke-width="2"/>
<line x1="402.33" y1="794" x2="402.33" y2="1293.5" stroke="#c6c6c6" stroke-width="2"/>
<line x1="585.92" y1="794" x2="585.92" y2="1293.5" stroke="#c6c6c6" stroke-width="2"/>
<line x1="196.5" y1="1231.5" x2="769.5" y2="1231.5" stroke="#c6c6c6" stroke-width="2"/>
<line x1="196.5" y1="1169" x2="769.5" y2="1169" stroke="#c6c6c6" stroke-width="2"/>
<line x1="196.5" y1="1106.5" x2="769.5" y2="1106.5" stroke="#c6c6c6" stroke-width="2"/>
<line x1="196.5" y1="1044" x2="769.5" y2="1044" stroke="#c6c6c6" stroke-width="2"/>
<line x1="196.5" y1="981.5" x2="769.5" y2="981.5" stroke="#c6c6c6" stroke-width="2"/>
<line x1="196.5" y1="919" x2="769.5" y2="919" stroke="#c6c6c6" stroke-width="2"/>
<line x1="196.5" y1="856.5" x2="769.5" y2="856.5" stroke="#c6c6c6" stroke-width="2"/>
<clipPath id="clipb"><rect x="196.5" y="794" width="573" height="499.5"/></clipPath>
<g clip-path="url(#clipb)">
<path d="M218.75 814.5 L219.46 814.52 L220.41 814.53 L221.53 814.54 L222.78 814.56 L224.11 814.61 L225.45 814.69 L226.77 814.81 L228 815 L229.18 815.23 L230.36 815.48 L231.54 815.77 L232.73 816.09 L233.93 816.47 L235.12 816.91 L236.31 817.42 L237.5 818 L238.7 818.67 L239.91 819.42 L241.13 820.24 L242.34 821.12 L243.55 822.05 L244.73 823.02 L245.88 824 L247 825 L248.06 825.96 L249.06 826.89 L250.02 827.81 L250.97 828.78 L251.92 829.84 L252.89 831.04 L253.91 832.41 L255 834 L256.16 835.81 L257.39 837.8 L258.66 839.96 L259.95 842.25 L261.25 844.67 L262.54 847.2 L263.8 849.81 L265 852.5 L266.15 855.26 L267.28 858.12 L268.37 861.07 L269.45 864.12 L270.52 867.29 L271.59 870.57 L272.66 873.97 L273.75 877.5 L274.86 881.23 L276 885.2 L277.14 889.34 L278.28 893.56 L279.4 897.81 L280.49 902.02 L281.53 906.1 L282.5 910 L283.41 913.71 L284.27 917.28 L285.08 920.76 L285.86 924.19 L286.61 927.59 L287.33 931 L288.05 934.46 L288.75 938 L289.43 941.53 L290.09 944.96 L290.72 948.38 L291.33 951.84 L291.93 955.42 L292.53 959.18 L293.13 963.18 L293.75 967.5 L294.37 972.21 L294.97 977.27 L295.57 982.6 L296.17 988.09 L296.78 993.67 L297.41 999.25 L298.07 1004.72 L298.75 1010 L299.48 1015.12 L300.25 1020.18 L301.06 1025.18 L301.88 1030.16 L302.69 1035.11 L303.5 1040.06 L304.27 1045.02 L305 1050 L305.69 1055.01 L306.37 1060.05 L307.02 1065.09 L307.66 1070.12 L308.27 1075.15 L308.87 1080.14 L309.44 1085.1 L310 1090 L310.53 1094.9 L311.03 1099.83 L311.5 1104.75 L311.95 1109.62 L312.4 1114.42 L312.84 1119.11 L313.29 1123.65 L313.75 1128 L314.22 1132.21 L314.69 1136.34 L315.17 1140.36 L315.64 1144.25 L316.11 1147.98 L316.58 1151.53 L317.04 1154.88 L317.5 1158 L317.95 1160.91 L318.38 1163.65 L318.81 1166.2 L319.23 1168.56 L319.66 1170.73 L320.1 1172.7 L320.54 1174.45 L321 1176 L321.46 1177.3 L321.89 1178.35 L322.33 1179.18 L322.78 1179.81 L323.26 1180.28 L323.78 1180.62 L324.35 1180.85 L325 1181 L325.69 1181.01 L326.4 1180.84 L327.14 1180.5 L327.94 1180.06 L328.8 1179.55 L329.76 1179.01 L330.82 1178.48 L332 1178 L333.31 1177.54 L334.72 1177.04 L336.24 1176.51 L337.84 1175.97 L339.53 1175.43 L341.29 1174.92 L343.12 1174.44 L345 1174 L346.84 1173.61 L348.59 1173.25 L350.35 1172.91 L352.22 1172.59 L354.27 1172.3 L356.61 1172.02 L359.32 1171.75 L362.5 1171.5 L366.15 1171.26 L370.18 1171.03 L374.55 1170.82 L379.22 1170.62 L384.14 1170.45 L389.28 1170.28 L394.58 1170.13 L400 1170 L403.81 1169.89 L405.3 1169.8 L405.99 1169.74 L407.38 1169.69 L410.96 1169.64 L418.26 1169.6 L430.77 1169.56 L450 1169.5 L479.23 1169.43 L518.41 1169.36 L564.11 1169.29 L612.88 1169.22 L661.25 1169.15 L705.77 1169.09 L743.01 1169.04 L769.5 1169" fill="none" stroke="#ff0000" stroke-width="10.5" stroke-linejoin="round" stroke-dasharray="30.19 9.19 11.29 9.19 11.03 9.19"/>
<path d="M218.75 907.5 L219.46 907.52 L220.41 907.53 L221.53 907.54 L222.78 907.56 L224.11 907.61 L225.45 907.69 L226.77 907.81 L228 908 L229.16 908.2 L230.29 908.38 L231.41 908.57 L232.55 908.81 L233.71 909.14 L234.91 909.59 L236.17 910.2 L237.5 911 L238.94 911.99 L240.47 913.14 L242.08 914.43 L243.72 915.84 L245.36 917.37 L246.98 919 L248.54 920.72 L250 922.5 L251.37 924.33 L252.68 926.22 L253.93 928.18 L255.16 930.25 L256.36 932.44 L257.56 934.78 L258.77 937.29 L260 940 L261.27 942.98 L262.56 946.24 L263.86 949.71 L265.16 953.31 L266.43 956.97 L267.68 960.6 L268.87 964.14 L270 967.5 L271.06 970.65 L272.05 973.64 L273 976.53 L273.91 979.41 L274.8 982.32 L275.68 985.35 L276.58 988.55 L277.5 992 L278.45 995.7 L279.4 999.61 L280.37 1003.66 L281.33 1007.84 L282.28 1012.1 L283.21 1016.41 L284.12 1020.72 L285 1025 L285.85 1029.26 L286.68 1033.54 L287.49 1037.85 L288.28 1042.19 L289.05 1046.57 L289.8 1050.99 L290.54 1055.47 L291.25 1060 L291.93 1064.61 L292.56 1069.31 L293.16 1074.07 L293.75 1078.88 L294.34 1083.69 L294.94 1088.5 L295.57 1093.28 L296.25 1098 L296.96 1102.72 L297.7 1107.47 L298.45 1112.23 L299.22 1116.97 L300.01 1121.65 L300.82 1126.23 L301.65 1130.69 L302.5 1135 L303.37 1139.18 L304.26 1143.27 L305.17 1147.27 L306.09 1151.16 L307.04 1154.93 L308.01 1158.59 L308.99 1162.11 L310 1165.5 L311 1168.73 L311.98 1171.79 L312.97 1174.72 L313.98 1177.53 L315.05 1180.24 L316.18 1182.88 L317.41 1185.46 L318.75 1188 L320.22 1190.49 L321.81 1192.91 L323.49 1195.26 L325.23 1197.53 L327.03 1199.74 L328.86 1201.89 L330.69 1203.97 L332.5 1206 L334.32 1207.99 L336.16 1209.95 L338.03 1211.85 L339.92 1213.69 L341.82 1215.44 L343.72 1217.09 L345.62 1218.61 L347.5 1220 L349.38 1221.24 L351.25 1222.34 L353.12 1223.31 L355 1224.19 L356.88 1224.98 L358.75 1225.7 L360.62 1226.36 L362.5 1227 L364.32 1227.59 L366.07 1228.11 L367.8 1228.57 L369.53 1228.97 L371.33 1229.31 L373.22 1229.59 L375.27 1229.82 L377.5 1230 L379.9 1230.1 L382.42 1230.12 L385.06 1230.07 L387.81 1229.97 L390.68 1229.84 L393.67 1229.71 L396.78 1229.59 L400 1229.5 L403.49 1229.47 L407.32 1229.48 L411.36 1229.51 L415.47 1229.53 L419.52 1229.52 L423.38 1229.44 L426.92 1229.28 L430 1229 L432.59 1228.62 L434.8 1228.17 L436.72 1227.65 L438.44 1227.06 L440.03 1226.4 L441.6 1225.67 L443.23 1224.87 L445 1224 L446.84 1223.02 L448.63 1221.91 L450.41 1220.7 L452.19 1219.44 L454.01 1218.15 L455.9 1216.88 L457.89 1215.65 L460 1214.5 L462.18 1213.42 L464.36 1212.37 L466.58 1211.35 L468.91 1210.34 L471.36 1209.36 L474 1208.39 L476.87 1207.44 L480 1206.5 L483.57 1205.55 L487.6 1204.59 L491.93 1203.63 L496.41 1202.69 L500.86 1201.79 L505.14 1200.95 L509.07 1200.18 L512.5 1199.5 L515.39 1198.96 L517.87 1198.57 L520.05 1198.28 L522.03 1198.03 L523.91 1197.78 L525.8 1197.47 L527.8 1197.06 L530 1196.5 L532.38 1195.79 L534.82 1195 L537.32 1194.13 L539.84 1193.19 L542.39 1192.19 L544.94 1191.16 L547.48 1190.09 L550 1189 L552.53 1187.84 L555.12 1186.57 L557.72 1185.24 L560.31 1183.88 L562.87 1182.53 L565.35 1181.24 L567.74 1180.05 L570 1179 L572.08 1178.08 L573.98 1177.26 L575.77 1176.52 L577.5 1175.84 L579.23 1175.22 L581.02 1174.63 L582.92 1174.06 L585 1173.5 L587.23 1172.95 L589.53 1172.43 L591.91 1171.94 L594.38 1171.48 L596.91 1171.06 L599.53 1170.67 L602.23 1170.31 L605 1170 L607.71 1169.74 L610.31 1169.53 L612.91 1169.36 L615.62 1169.23 L618.57 1169.12 L621.88 1169.02 L625.64 1168.92 L630 1168.8 L634.78 1168.68 L639.82 1168.55 L645.18 1168.44 L650.97 1168.32 L657.26 1168.22 L664.14 1168.13 L671.69 1168.06 L680 1168 L689.91 1167.96 L701.7 1167.94 L714.6 1167.94 L727.88 1167.95 L740.76 1167.96 L752.49 1167.98 L762.33 1167.99 L769.5 1168" fill="none" stroke="#0000ff" stroke-width="10.5" stroke-linejoin="round" stroke-dasharray="50.49 9.06"/>
</g>
<rect x="352" y="812" width="400.5" height="120" rx="5" ry="5" fill="#fff" fill-opacity="0.8" stroke="#d4d4d4" stroke-width="2"/>
<line x1="364" y1="843.5" x2="433" y2="843.5" stroke="#ff0000" stroke-width="10.5" stroke-dasharray="28.7 8.7 10.8 8.7 10.8 8.7"/>
<line x1="364" y1="898" x2="433" y2="898" stroke="#0000ff" stroke-width="10.5" stroke-dasharray="49.5 8.5"/>
<text transform="translate(443.8,854.8) scale(1.04,1)" font-family="'DejaVu Sans','Liberation Sans',sans-serif" font-size="33.8" text-anchor="start" fill="#000">NW top surface</text>
<text transform="translate(443.8,907.8) scale(1.03,1)" font-family="'DejaVu Sans','Liberation Sans',sans-serif" font-size="33.8" text-anchor="start" fill="#000">Between the NWs</text>
<rect x="196.5" y="794" width="573" height="499.5" fill="none" stroke="#000" stroke-width="5"/>
<line x1="184" y1="1294" x2="196.5" y2="1294" stroke="#000" stroke-width="4"/>
<text transform="translate(160,1308.8) scale(0.86,1)" font-family="'DejaVu Sans','Liberation Sans',sans-serif" font-size="38" text-anchor="end" fill="#000">−400</text>
<line x1="187.5" y1="1262.75" x2="196.5" y2="1262.75" stroke="#000" stroke-width="3.5"/>
<line x1="184" y1="1231.5" x2="196.5" y2="1231.5" stroke="#000" stroke-width="4"/>
<text transform="translate(160,1246.3) scale(0.86,1)" font-family="'DejaVu Sans','Liberation Sans',sans-serif" font-size="38" text-anchor="end" fill="#000">−200</text>
<line x1="187.5" y1="1200.25" x2="196.5" y2="1200.25" stroke="#000" stroke-width="3.5"/>
<line x1="184" y1="1169" x2="196.5" y2="1169" stroke="#000" stroke-width="4"/>
<text transform="translate(160,1183.8) scale(0.86,1)" font-family="'DejaVu Sans','Liberation Sans',sans-serif" font-size="38" text-anchor="end" fill="#000">0</text>
<line x1="187.5" y1="1137.75" x2="196.5" y2="1137.75" stroke="#000" stroke-width="3.5"/>
<line x1="184" y1="1106.5" x2="196.5" y2="1106.5" stroke="#000" stroke-width="4"/>
<text transform="translate(160,1121.3) scale(0.86,1)" font-family="'DejaVu Sans','Liberation Sans',sans-serif" font-size="38" text-anchor="end" fill="#000">200</text>
<line x1="187.5" y1="1075.25" x2="196.5" y2="1075.25" stroke="#000" stroke-width="3.5"/>
<line x1="184" y1="1044" x2="196.5" y2="1044" stroke="#000" stroke-width="4"/>
<text transform="translate(160,1058.8) scale(0.86,1)" font-family="'DejaVu Sans','Liberation Sans',sans-serif" font-size="38" text-anchor="end" fill="#000">400</text>
<line x1="187.5" y1="1012.75" x2="196.5" y2="1012.75" stroke="#000" stroke-width="3.5"/>
<line x1="184" y1="981.5" x2="196.5" y2="981.5" stroke="#000" stroke-width="4"/>
<text transform="translate(160,996.3) scale(0.86,1)" font-family="'DejaVu Sans','Liberation Sans',sans-serif" font-size="38" text-anchor="end" fill="#000">600</text>
<line x1="187.5" y1="950.25" x2="196.5" y2="950.25" stroke="#000" stroke-width="3.5"/>
<line x1="184" y1="919" x2="196.5" y2="919" stroke="#000" stroke-width="4"/>
<text transform="translate(160,933.8) scale(0.86,1)" font-family="'DejaVu Sans','Liberation Sans',sans-serif" font-size="38" text-anchor="end" fill="#000">800</text>
<line x1="187.5" y1="887.75" x2="196.5" y2="887.75" stroke="#000" stroke-width="3.5"/>
<line x1="184" y1="856.5" x2="196.5" y2="856.5" stroke="#000" stroke-width="4"/>
<text transform="translate(160,871.3) scale(0.86,1)" font-family="'DejaVu Sans','Liberation Sans',sans-serif" font-size="38" text-anchor="end" fill="#000">1000</text>
<line x1="187.5" y1="825.25" x2="196.5" y2="825.25" stroke="#000" stroke-width="3.5"/>
<line x1="184" y1="794" x2="196.5" y2="794" stroke="#000" stroke-width="4"/>
<text transform="translate(160,808.8) scale(0.86,1)" font-family="'DejaVu Sans','Liberation Sans',sans-serif" font-size="38" text-anchor="end" fill="#000">1200</text>
<line x1="218.75" y1="1293.5" x2="218.75" y2="1306.5" stroke="#000" stroke-width="4"/>
<text transform="translate(218.75,1361.8) scale(0.9,1)" font-family="'DejaVu Sans','Liberation Sans',sans-serif" font-size="37.2" text-anchor="middle" fill="#000">0</text>
<line x1="241.7" y1="1293.5" x2="241.7" y2="1301" stroke="#000" stroke-width="3.5"/>
<line x1="264.65" y1="1293.5" x2="264.65" y2="1301" stroke="#000" stroke-width="3.5"/>
<line x1="287.59" y1="1293.5" x2="287.59" y2="1301" stroke="#000" stroke-width="3.5"/>
<line x1="310.54" y1="1293.5" x2="310.54" y2="1301" stroke="#000" stroke-width="3.5"/>
<line x1="333.49" y1="1293.5" x2="333.49" y2="1301" stroke="#000" stroke-width="3.5"/>
<line x1="356.44" y1="1293.5" x2="356.44" y2="1301" stroke="#000" stroke-width="3.5"/>
<line x1="379.39" y1="1293.5" x2="379.39" y2="1301" stroke="#000" stroke-width="3.5"/>
<line x1="402.33" y1="1293.5" x2="402.33" y2="1306.5" stroke="#000" stroke-width="4"/>
<text transform="translate(402.33,1361.8) scale(0.9,1)" font-family="'DejaVu Sans','Liberation Sans',sans-serif" font-size="37.2" text-anchor="middle" fill="#000">40</text>
<line x1="425.28" y1="1293.5" x2="425.28" y2="1301" stroke="#000" stroke-width="3.5"/>
<line x1="448.23" y1="1293.5" x2="448.23" y2="1301" stroke="#000" stroke-width="3.5"/>
<line x1="471.18" y1="1293.5" x2="471.18" y2="1301" stroke="#000" stroke-width="3.5"/>
<line x1="494.12" y1="1293.5" x2="494.12" y2="1301" stroke="#000" stroke-width="3.5"/>
<line x1="517.07" y1="1293.5" x2="517.07" y2="1301" stroke="#000" stroke-width="3.5"/>
<line x1="540.02" y1="1293.5" x2="540.02" y2="1301" stroke="#000" stroke-width="3.5"/>
<line x1="562.97" y1="1293.5" x2="562.97" y2="1301" stroke="#000" stroke-width="3.5"/>
<line x1="585.92" y1="1293.5" x2="585.92" y2="1306.5" stroke="#000" stroke-width="4"/>
<text transform="translate(585.92,1361.8) scale(0.9,1)" font-family="'DejaVu Sans','Liberation Sans',sans-serif" font-size="37.2" text-anchor="middle" fill="#000">80</text>
<line x1="608.86" y1="1293.5" x2="608.86" y2="1301" stroke="#000" stroke-width="3.5"/>
<line x1="631.81" y1="1293.5" x2="631.81" y2="1301" stroke="#000" stroke-width="3.5"/>
<line x1="654.76" y1="1293.5" x2="654.76" y2="1301" stroke="#000" stroke-width="3.5"/>
<line x1="677.71" y1="1293.5" x2="677.71" y2="1301" stroke="#000" stroke-width="3.5"/>
<line x1="700.66" y1="1293.5" x2="700.66" y2="1301" stroke="#000" stroke-width="3.5"/>
<line x1="723.6" y1="1293.5" x2="723.6" y2="1301" stroke="#000" stroke-width="3.5"/>
<line x1="746.55" y1="1293.5" x2="746.55" y2="1301" stroke="#000" stroke-width="3.5"/>
<line x1="769.5" y1="1293.5" x2="769.5" y2="1306.5" stroke="#000" stroke-width="4"/>
<text transform="translate(769.5,1361.8) scale(0.9,1)" font-family="'DejaVu Sans','Liberation Sans',sans-serif" font-size="37.2" text-anchor="middle" fill="#000">120</text>
<text transform="translate(483,1410.8) scale(0.95,1)" font-family="'DejaVu Sans','Liberation Sans',sans-serif" font-size="40" text-anchor="middle" fill="#000" font-style="italic">Z (nm)</text>
<text transform="translate(38.6,1046) rotate(-90) scale(1.07,1)" font-family="'DejaVu Sans','Liberation Sans',sans-serif" font-size="39.3" text-anchor="middle" fill="#000" font-style="italic" dy="0.35em">Force (nN)</text>
</g>
<g id="panel-c">
<text transform="translate(908,88.2) scale(1,0.96)" font-family="'DejaVu Sans','Liberation Sans',sans-serif" font-size="88" text-anchor="start" fill="#000" stroke="#fff" stroke-width="1">c</text>
<clipPath id="clipc"><rect x="1007.6" y="135" width="557.4" height="501.25"/></clipPath>
<line x1="1100" y1="135" x2="1100" y2="636.25" stroke="#dcdcdc" stroke-width="1.8" stroke-dasharray="9.5 3.2" stroke-opacity="0.5"/>
<line x1="1216.25" y1="135" x2="1216.25" y2="636.25" stroke="#dcdcdc" stroke-width="1.8" stroke-dasharray="9.5 3.2" stroke-opacity="0.5"/>
<line x1="1332.5" y1="135" x2="1332.5" y2="636.25" stroke="#dcdcdc" stroke-width="1.8" stroke-dasharray="9.5 3.2" stroke-opacity="0.5"/>
<line x1="1448.75" y1="135" x2="1448.75" y2="636.25" stroke="#dcdcdc" stroke-width="1.8" stroke-dasharray="9.5 3.2" stroke-opacity="0.5"/>
<line x1="1007.6" y1="536" x2="1565" y2="536" stroke="#dcdcdc" stroke-width="1.8" stroke-dasharray="9.5 3.2" stroke-opacity="0.5"/>
<line x1="1007.6" y1="435.75" x2="1565" y2="435.75" stroke="#dcdcdc" stroke-width="1.8" stroke-dasharray="9.5 3.2" stroke-opacity="0.5"/>
<line x1="1007.6" y1="335.5" x2="1565" y2="335.5" stroke="#dcdcdc" stroke-width="1.8" stroke-dasharray="9.5 3.2" stroke-opacity="0.5"/>
<line x1="1007.6" y1="235.25" x2="1565" y2="235.25" stroke="#dcdcdc" stroke-width="1.8" stroke-dasharray="9.5 3.2" stroke-opacity="0.5"/>
<line x1="1007.6" y1="552.71" x2="1565" y2="552.71" stroke="#dcdcdc" stroke-width="1.8" stroke-dasharray="9.5 3.2" stroke-opacity="0.5"/>
<line x1="1007.6" y1="469.17" x2="1565" y2="469.17" stroke="#dcdcdc" stroke-width="1.8" stroke-dasharray="9.5 3.2" stroke-opacity="0.5"/>
<line x1="1007.6" y1="385.62" x2="1565" y2="385.62" stroke="#dcdcdc" stroke-width="1.8" stroke-dasharray="9.5 3.2" stroke-opacity="0.5"/>
<line x1="1007.6" y1="302.08" x2="1565" y2="302.08" stroke="#dcdcdc" stroke-width="1.8" stroke-dasharray="9.5 3.2" stroke-opacity="0.5"/>
<line x1="1007.6" y1="218.54" x2="1565" y2="218.54" stroke="#dcdcdc" stroke-width="1.8" stroke-dasharray="9.5 3.2" stroke-opacity="0.5"/>
<g clip-path="url(#clipc)">
<path d="M1022 636.25 L1022 617.04 L1035.9 617.04 L1035.9 538.51 L1049.8 538.51 L1049.8 451.21 L1063.7 451.21 L1063.7 410.69 L1077.6 410.69 L1077.6 440.34 L1091.5 440.34 L1091.5 462.07 L1105.4 462.07 L1105.4 434.91 L1119.3 434.91 L1119.3 434.91 L1133.2 434.91 L1133.2 404.42 L1147.1 404.42 L1147.1 378.11 L1161 378.11 L1161 393.98 L1174.9 393.98 L1174.9 360.56 L1188.8 360.56 L1188.8 310.02 L1202.7 310.02 L1202.7 288.3 L1216.6 288.3 L1216.6 236.5 L1230.5 236.5 L1230.5 233.16 L1244.4 233.16 L1244.4 202.25 L1258.3 202.25 L1258.3 193.48 L1272.2 193.48 L1272.2 161.32 L1286.1 161.32 L1286.1 176.35 L1300 176.35 L1300 180.11 L1313.9 180.11 L1313.9 223.14 L1327.8 223.14 L1327.8 242.35 L1341.7 242.35 L1341.7 298.74 L1355.6 298.74 L1355.6 353.04 L1369.5 353.04 L1369.5 406.93 L1383.4 406.93 L1383.4 469.17 L1397.3 469.17 L1397.3 519.71 L1411.2 519.71 L1411.2 563.15 L1425.1 563.15 L1425.1 579.86 L1439 579.86 L1439 595.73 L1452.9 595.73 L1452.9 606.17 L1466.8 606.17 L1466.8 615.36 L1480.7 615.36 L1480.7 620.38 L1494.6 620.38 L1494.6 623.72 L1508.5 623.72 L1508.5 628.73 L1522.4 628.73 L1522.4 632.07 L1536.3 632.07 L1536.3 634.16 L1550.2 634.16 L1550.2 635.41 L1564.1 635.41 L1564.1 636.25 Z" fill="#60b5fc" stroke="none" stroke-width="0" stroke-linejoin="round"/>
<path d="M1096.78 396.67 L1098.18 395.98 L1099.57 395.67 L1100.96 395.74 L1102.36 396.2 L1103.75 397.04 L1105.14 398.25 L1106.54 399.84 L1107.93 401.79 L1109.33 404.1 L1110.72 406.75 L1112.11 409.73 L1113.51 413.03 L1114.9 416.64 L1116.29 420.52 L1117.69 424.68 L1119.08 429.09 L1120.47 433.73 L1121.87 438.59 L1123.26 443.63 L1124.65 448.85 L1126.05 454.21 L1127.44 459.7 L1128.83 465.31 L1130.23 470.99 L1131.62 476.75 L1133.02 482.54 L1134.41 488.37 L1135.8 494.2 L1137.2 500.01 L1138.59 505.8 L1139.98 511.54 L1141.38 517.22 L1142.77 522.82 L1144.16 528.33 L1145.56 533.74 L1146.95 539.03 L1148.34 544.2 L1149.74 549.23 L1151.13 554.11 L1152.52 558.85 L1153.92 563.43 L1155.31 567.84 L1156.7 572.09 L1158.1 576.18 L1159.49 580.09 L1160.88 583.83 L1162.28 587.4 L1163.67 590.8 L1165.07 594.04 L1166.46 597.1 L1167.85 600 L1169.25 602.74 L1170.64 605.32 L1172.03 607.75 L1173.43 610.02 L1174.82 612.16 L1176.21 614.16 L1177.61 616.02 L1179 617.76 L1180.39 619.37 L1181.79 620.87 L1183.18 622.25 L1184.57 623.54 L1185.97 624.72 L1187.36 625.81 L1188.76 626.81 L1190.15 627.73 L1191.54 628.57 L1192.94 629.34 L1194.33 630.05 L1195.72 630.69 L1197.12 631.27 L1198.51 631.8 L1199.9 632.27 L1201.3 632.71 L1202.69 633.1 L1204.08 633.45 L1205.48 633.77 L1206.87 634.05 L1208.26 634.31 L1209.66 634.53 L1211.05 634.74 L1212.44 634.92 L1213.84 635.08 L1215.23 635.23 L1216.62 635.35 L1218.02 635.47 L1219.41 635.57 L1220.81 635.65 L1222.2 635.73 L1223.59 635.8 L1224.99 635.86 L1226.38 635.91 L1227.77 635.96 L1229.17 636 L1230.56 636.03 L1231.95 636.06 L1233.35 636.09 L1234.74 636.11 L1236.13 636.13 L1237.53 636.15 L1238.92 636.16 L1240.31 636.18 L1241.71 636.19 L1243.1 636.2 L1244.5 636.2 L1245.89 636.21 L1247.28 636.22 L1248.68 636.22 L1250.07 636.23 L1251.46 636.23 L1252.86 636.23 L1254.25 636.24 L1255.64 636.24 L1257.04 636.24 L1258.43 636.24 L1259.82 636.24 L1261.22 636.24 L1262.61 636.25 L1264 636.25 L1265.4 636.25 L1266.79 636.25 L1268.18 636.25 L1269.58 636.25 L1270.97 636.25 L1272.37 636.25 L1273.76 636.25 L1275.15 636.25 L1276.55 636.25 L1277.94 636.25 L1279.33 636.25 L1280.73 636.25 L1282.12 636.25 L1283.51 636.25 L1284.91 636.25 L1286.3 636.25 L1287.69 636.25 L1289.09 636.25 L1290.48 636.25 L1291.87 636.25 L1293.27 636.25 L1294.66 636.25 L1296.05 636.25 L1297.45 636.25 L1298.84 636.25 L1300.24 636.25 L1301.63 636.25 L1303.02 636.25 L1304.42 636.25 L1305.81 636.25 L1307.2 636.25 L1308.6 636.25 L1309.99 636.25 L1311.38 636.25 L1312.78 636.25 L1314.17 636.25 L1315.56 636.25 L1316.96 636.25 L1318.35 636.25 L1319.74 636.25 L1321.14 636.25 L1322.53 636.25 L1323.92 636.25 L1325.32 636.25 L1326.71 636.25 L1328.11 636.25 L1329.5 636.25 L1330.89 636.25 L1332.29 636.25 L1333.68 636.25 L1335.07 636.25 L1336.47 636.25 L1337.86 636.25 L1339.25 636.25 L1340.65 636.25 L1342.04 636.25 L1343.43 636.25 L1344.83 636.25 L1346.22 636.25 L1347.61 636.25 L1349.01 636.25 L1350.4 636.25 L1351.79 636.25 L1353.19 636.25 L1354.58 636.25 L1355.97 636.25 L1357.37 636.25 L1358.76 636.25 L1360.16 636.25 L1361.55 636.25 L1362.94 636.25 L1364.34 636.25 L1365.73 636.25 L1367.12 636.25 L1368.52 636.25 L1369.91 636.25 L1371.3 636.25 L1372.7 636.25 L1374.09 636.25 L1375.48 636.25 L1376.88 636.25 L1378.27 636.25 L1379.66 636.25 L1381.06 636.25 L1382.45 636.25 L1383.85 636.25 L1385.24 636.25 L1386.63 636.25 L1388.03 636.25 L1389.42 636.25 L1390.81 636.25 L1392.21 636.25 L1393.6 636.25 L1394.99 636.25 L1396.39 636.25 L1397.78 636.25 L1399.17 636.25 L1400.57 636.25 L1401.96 636.25 L1403.35 636.25 L1404.75 636.25 L1406.14 636.25 L1407.53 636.25 L1408.93 636.25 L1410.32 636.25 L1411.71 636.25 L1413.11 636.25 L1414.5 636.25 L1415.9 636.25 L1417.29 636.25 L1418.68 636.25 L1420.08 636.25 L1421.47 636.25 L1422.86 636.25 L1424.26 636.25 L1425.65 636.25 L1427.04 636.25 L1428.44 636.25 L1429.83 636.25 L1431.22 636.25 L1432.62 636.25 L1434.01 636.25 L1435.4 636.25 L1436.8 636.25 L1438.19 636.25 L1439.59 636.25 L1440.98 636.25 L1442.37 636.25 L1443.77 636.25 L1445.16 636.25 L1446.55 636.25 L1447.95 636.25 L1449.34 636.25 L1450.73 636.25 L1452.13 636.25 L1453.52 636.25 L1454.91 636.25 L1456.31 636.25 L1457.7 636.25 L1459.09 636.25 L1460.49 636.25 L1461.88 636.25 L1463.27 636.25 L1464.67 636.25 L1466.06 636.25 L1467.45 636.25 L1468.85 636.25 L1470.24 636.25 L1471.64 636.25 L1473.03 636.25 L1474.42 636.25 L1475.82 636.25 L1477.21 636.25 L1478.6 636.25 L1480 636.25 L1481.39 636.25 L1482.78 636.25 L1484.18 636.25 L1485.57 636.25 L1486.96 636.25 L1488.36 636.25 L1489.75 636.25 L1491.14 636.25 L1492.54 636.25 L1493.93 636.25 L1495.33 636.25 L1496.72 636.25 L1498.11 636.25 L1499.51 636.25 L1500.9 636.25 L1502.29 636.25 L1503.69 636.25 L1505.08 636.25 L1506.47 636.25 L1507.87 636.25 L1509.26 636.25 L1510.65 636.25 L1512.05 636.25 L1513.44 636.25 L1514.83 636.25 L1516.23 636.25 L1517.62 636.25 L1519.01 636.25 L1520.41 636.25 L1521.8 636.25 L1523.19 636.25 L1524.59 636.25 L1525.98 636.25 L1527.38 636.25 L1528.77 636.25 L1530.16 636.25 L1531.56 636.25 L1532.95 636.25 L1534.34 636.25 L1535.74 636.25 L1537.13 636.25 L1538.52 636.25 L1539.92 636.25 L1541.31 636.25 L1542.7 636.25 L1544.1 636.25 L1545.49 636.25 L1546.88 636.25 L1548.28 636.25 L1549.67 636.25 L1551.07 636.25 L1552.46 636.25 L1553.85 636.25 L1555.25 636.25 L1556.64 636.25 L1558.03 636.25 L1559.43 636.25 L1560.82 636.25 L1562.21 636.25 L1563.61 636.25 L1565 636.25" fill="none" stroke="#000000" stroke-width="6.2" stroke-linejoin="round" stroke-dasharray="29.5 12.5" stroke-dashoffset="22.22"/>
<path d="M1007.6 636.25 L1008.99 636.25 L1010.39 636.25 L1011.78 636.25 L1013.17 636.25 L1014.57 636.25 L1015.96 636.25 L1017.35 636.25 L1018.75 636.25 L1020.14 636.25 L1021.53 636.25 L1022.93 636.25 L1024.32 636.25 L1025.72 636.25 L1027.11 636.25 L1028.5 636.25 L1029.9 636.25 L1031.29 636.24 L1032.68 636.24 L1034.08 636.24 L1035.47 636.24 L1036.86 636.24 L1038.26 636.24 L1039.65 636.24 L1041.04 636.23 L1042.44 636.23 L1043.83 636.23 L1045.22 636.22 L1046.62 636.22 L1048.01 636.21 L1049.4 636.21 L1050.8 636.2 L1052.19 636.19 L1053.59 636.18 L1054.98 636.17 L1056.37 636.15 L1057.77 636.14 L1059.16 636.12 L1060.55 636.1 L1061.95 636.07 L1063.34 636.05 L1064.73 636.02 L1066.13 635.98 L1067.52 635.94 L1068.91 635.89 L1070.31 635.84 L1071.7 635.78 L1073.09 635.71 L1074.49 635.63 L1075.88 635.55 L1077.28 635.45 L1078.67 635.34 L1080.06 635.21 L1081.46 635.07 L1082.85 634.91 L1084.24 634.74 L1085.64 634.54 L1087.03 634.32 L1088.42 634.07 L1089.82 633.8 L1091.21 633.49 L1092.6 633.15 L1094 632.78 L1095.39 632.36 L1096.78 631.9 L1098.18 631.4 L1099.57 630.84 L1100.96 630.22 L1102.36 629.55 L1103.75 628.81 L1105.14 628 L1106.54 627.12 L1107.93 626.15 L1109.33 625.1 L1110.72 623.96 L1112.11 622.72 L1113.51 621.37 L1114.9 619.92 L1116.29 618.34 L1117.69 616.65 L1119.08 614.82 L1120.47 612.85 L1121.87 610.74 L1123.26 608.48 L1124.65 606.06 L1126.05 603.47 L1127.44 600.71 L1128.83 597.78 L1130.23 594.66 L1131.62 591.35 L1133.02 587.84 L1134.41 584.14 L1135.8 580.23 L1137.2 576.11 L1138.59 571.78 L1139.98 567.23 L1141.38 562.47 L1142.77 557.49 L1144.16 552.29 L1145.56 546.87 L1146.95 541.24 L1148.34 535.39 L1149.74 529.34 L1151.13 523.08 L1152.52 516.62 L1153.92 509.97 L1155.31 503.13 L1156.7 496.13 L1158.1 488.96 L1159.49 481.64 L1160.88 474.18 L1162.28 466.61 L1163.67 458.93 L1165.07 451.16 L1166.46 443.32 L1167.85 435.43 L1169.25 427.52 L1170.64 419.59 L1172.03 411.68 L1173.43 403.81 L1174.82 395.99 L1176.21 388.27 L1177.61 380.65 L1179 373.17 L1180.39 365.85 L1181.79 358.72 L1183.18 351.8 L1184.57 345.11 L1185.97 338.68 L1187.36 332.54 L1188.76 326.71 L1190.15 321.21 L1191.54 316.06 L1192.94 311.28 L1194.33 306.89 L1195.72 302.91 L1197.12 299.36 L1198.51 296.25 L1199.9 293.58 L1201.3 291.39 L1202.69 289.66 L1204.08 288.41 L1205.48 287.65 L1206.87 287.38 L1208.26 287.6 L1209.66 288.3 L1211.05 289.49 L1212.44 291.16 L1213.84 293.31 L1215.23 295.92 L1216.62 298.98 L1218.02 302.49 L1219.41 306.42 L1220.81 310.76 L1222.2 315.49 L1223.59 320.6 L1224.99 326.07 L1226.38 331.86 L1227.77 337.97 L1229.17 344.36 L1230.56 351.02 L1231.95 357.92 L1233.35 365.03 L1234.74 372.33 L1236.13 379.79 L1237.53 387.39 L1238.92 395.11 L1240.31 402.91 L1241.71 410.78 L1243.1 418.69 L1244.5 426.61 L1245.89 434.53 L1247.28 442.42 L1248.68 450.27 L1250.07 458.05 L1251.46 465.74 L1252.86 473.33 L1254.25 480.8 L1255.64 488.13 L1257.04 495.32 L1258.43 502.34 L1259.82 509.2 L1261.22 515.87 L1262.61 522.35 L1264 528.63 L1265.4 534.71 L1266.79 540.58 L1268.18 546.24 L1269.58 551.68 L1270.97 556.91 L1272.37 561.91 L1273.76 566.7 L1275.15 571.27 L1276.55 575.63 L1277.94 579.77 L1279.33 583.7 L1280.73 587.43 L1282.12 590.96 L1283.51 594.29 L1284.91 597.43 L1286.3 600.39 L1287.69 603.16 L1289.09 605.77 L1290.48 608.21 L1291.87 610.49 L1293.27 612.62 L1294.66 614.6 L1296.05 616.44 L1297.45 618.16 L1298.84 619.74 L1300.24 621.21 L1301.63 622.57 L1303.02 623.82 L1304.42 624.98 L1305.81 626.04 L1307.2 627.01 L1308.6 627.91 L1309.99 628.72 L1311.38 629.47 L1312.78 630.15 L1314.17 630.77 L1315.56 631.33 L1316.96 631.85 L1318.35 632.31 L1319.74 632.73 L1321.14 633.11 L1322.53 633.45 L1323.92 633.76 L1325.32 634.04 L1326.71 634.29 L1328.11 634.51 L1329.5 634.72 L1330.89 634.89 L1332.29 635.05 L1333.68 635.2 L1335.07 635.32 L1336.47 635.44 L1337.86 635.54 L1339.25 635.62 L1340.65 635.7 L1342.04 635.77 L1343.43 635.83 L1344.83 635.89 L1346.22 635.93 L1347.61 635.98 L1349.01 636.01 L1350.4 636.04 L1351.79 636.07 L1353.19 636.1 L1354.58 636.12 L1355.97 636.14 L1357.37 636.15 L1358.76 636.17 L1360.16 636.18 L1361.55 636.19 L1362.94 636.2 L1364.34 636.2 L1365.73 636.21 L1367.12 636.22 L1368.52 636.22 L1369.91 636.23 L1371.3 636.23 L1372.7 636.23 L1374.09 636.24 L1375.48 636.24 L1376.88 636.24 L1378.27 636.24 L1379.66 636.24 L1381.06 636.24 L1382.45 636.24 L1383.85 636.25 L1385.24 636.25 L1386.63 636.25 L1388.03 636.25 L1389.42 636.25 L1390.81 636.25 L1392.21 636.25 L1393.6 636.25 L1394.99 636.25 L1396.39 636.25 L1397.78 636.25 L1399.17 636.25 L1400.57 636.25 L1401.96 636.25 L1403.35 636.25 L1404.75 636.25 L1406.14 636.25 L1407.53 636.25 L1408.93 636.25 L1410.32 636.25 L1411.71 636.25 L1413.11 636.25 L1414.5 636.25 L1415.9 636.25 L1417.29 636.25 L1418.68 636.25 L1420.08 636.25 L1421.47 636.25 L1422.86 636.25 L1424.26 636.25 L1425.65 636.25 L1427.04 636.25 L1428.44 636.25 L1429.83 636.25 L1431.22 636.25 L1432.62 636.25 L1434.01 636.25 L1435.4 636.25 L1436.8 636.25 L1438.19 636.25 L1439.59 636.25 L1440.98 636.25 L1442.37 636.25 L1443.77 636.25 L1445.16 636.25 L1446.55 636.25 L1447.95 636.25 L1449.34 636.25 L1450.73 636.25 L1452.13 636.25 L1453.52 636.25 L1454.91 636.25 L1456.31 636.25 L1457.7 636.25 L1459.09 636.25 L1460.49 636.25 L1461.88 636.25 L1463.27 636.25 L1464.67 636.25 L1466.06 636.25 L1467.45 636.25 L1468.85 636.25 L1470.24 636.25 L1471.64 636.25 L1473.03 636.25 L1474.42 636.25 L1475.82 636.25 L1477.21 636.25 L1478.6 636.25 L1480 636.25 L1481.39 636.25 L1482.78 636.25 L1484.18 636.25 L1485.57 636.25 L1486.96 636.25 L1488.36 636.25 L1489.75 636.25 L1491.14 636.25 L1492.54 636.25 L1493.93 636.25 L1495.33 636.25 L1496.72 636.25 L1498.11 636.25 L1499.51 636.25 L1500.9 636.25 L1502.29 636.25 L1503.69 636.25 L1505.08 636.25 L1506.47 636.25 L1507.87 636.25 L1509.26 636.25 L1510.65 636.25 L1512.05 636.25 L1513.44 636.25 L1514.83 636.25 L1516.23 636.25 L1517.62 636.25 L1519.01 636.25 L1520.41 636.25 L1521.8 636.25 L1523.19 636.25 L1524.59 636.25 L1525.98 636.25 L1527.38 636.25 L1528.77 636.25 L1530.16 636.25 L1531.56 636.25 L1532.95 636.25 L1534.34 636.25 L1535.74 636.25 L1537.13 636.25 L1538.52 636.25 L1539.92 636.25 L1541.31 636.25 L1542.7 636.25 L1544.1 636.25 L1545.49 636.25 L1546.88 636.25 L1548.28 636.25 L1549.67 636.25 L1551.07 636.25 L1552.46 636.25 L1553.85 636.25 L1555.25 636.25 L1556.64 636.25 L1558.03 636.25 L1559.43 636.25 L1560.82 636.25 L1562.21 636.25 L1563.61 636.25 L1565 636.25" fill="none" stroke="#0000ff" stroke-width="6.4" stroke-linejoin="round"/>
<path d="M1007.6 636.25 L1008.99 636.25 L1010.39 636.25 L1011.78 636.25 L1013.17 636.25 L1014.57 636.25 L1015.96 636.25 L1017.35 636.25 L1018.75 636.25 L1020.14 636.25 L1021.53 636.25 L1022.93 636.25 L1024.32 636.25 L1025.72 636.25 L1027.11 636.25 L1028.5 636.25 L1029.9 636.25 L1031.29 636.25 L1032.68 636.25 L1034.08 636.25 L1035.47 636.25 L1036.86 636.25 L1038.26 636.25 L1039.65 636.25 L1041.04 636.25 L1042.44 636.25 L1043.83 636.25 L1045.22 636.25 L1046.62 636.25 L1048.01 636.25 L1049.4 636.25 L1050.8 636.25 L1052.19 636.25 L1053.59 636.25 L1054.98 636.25 L1056.37 636.25 L1057.77 636.25 L1059.16 636.25 L1060.55 636.25 L1061.95 636.25 L1063.34 636.25 L1064.73 636.25 L1066.13 636.25 L1067.52 636.25 L1068.91 636.25 L1070.31 636.25 L1071.7 636.25 L1073.09 636.25 L1074.49 636.25 L1075.88 636.25 L1077.28 636.25 L1078.67 636.25 L1080.06 636.25 L1081.46 636.25 L1082.85 636.25 L1084.24 636.25 L1085.64 636.25 L1087.03 636.25 L1088.42 636.25 L1089.82 636.25 L1091.21 636.25 L1092.6 636.25 L1094 636.25 L1095.39 636.25 L1096.78 636.25 L1098.18 636.25 L1099.57 636.25 L1100.96 636.25 L1102.36 636.25 L1103.75 636.25 L1105.14 636.25 L1106.54 636.25 L1107.93 636.25 L1109.33 636.25 L1110.72 636.25 L1112.11 636.25 L1113.51 636.25 L1114.9 636.24 L1116.29 636.24 L1117.69 636.24 L1119.08 636.24 L1120.47 636.24 L1121.87 636.24 L1123.26 636.24 L1124.65 636.23 L1126.05 636.23 L1127.44 636.23 L1128.83 636.22 L1130.23 636.22 L1131.62 636.21 L1133.02 636.21 L1134.41 636.2 L1135.8 636.19 L1137.2 636.18 L1138.59 636.17 L1139.98 636.16 L1141.38 636.14 L1142.77 636.12 L1144.16 636.1 L1145.56 636.08 L1146.95 636.05 L1148.34 636.02 L1149.74 635.99 L1151.13 635.95 L1152.52 635.9 L1153.92 635.85 L1155.31 635.79 L1156.7 635.73 L1158.1 635.65 L1159.49 635.57 L1160.88 635.47 L1162.28 635.37 L1163.67 635.24 L1165.07 635.11 L1166.46 634.96 L1167.85 634.78 L1169.25 634.59 L1170.64 634.38 L1172.03 634.14 L1173.43 633.87 L1174.82 633.58 L1176.21 633.25 L1177.61 632.89 L1179 632.48 L1180.39 632.04 L1181.79 631.54 L1183.18 631 L1184.57 630.4 L1185.97 629.74 L1187.36 629.02 L1188.76 628.23 L1190.15 627.37 L1191.54 626.42 L1192.94 625.39 L1194.33 624.27 L1195.72 623.05 L1197.12 621.73 L1198.51 620.29 L1199.9 618.74 L1201.3 617.06 L1202.69 615.25 L1204.08 613.29 L1205.48 611.2 L1206.87 608.94 L1208.26 606.53 L1209.66 603.94 L1211.05 601.18 L1212.44 598.24 L1213.84 595.1 L1215.23 591.76 L1216.62 588.22 L1218.02 584.47 L1219.41 580.5 L1220.81 576.31 L1222.2 571.89 L1223.59 567.24 L1224.99 562.36 L1226.38 557.23 L1227.77 551.86 L1229.17 546.26 L1230.56 540.41 L1231.95 534.32 L1233.35 527.99 L1234.74 521.42 L1236.13 514.62 L1237.53 507.59 L1238.92 500.34 L1240.31 492.88 L1241.71 485.21 L1243.1 477.35 L1244.5 469.31 L1245.89 461.1 L1247.28 452.74 L1248.68 444.24 L1250.07 435.61 L1251.46 426.89 L1252.86 418.08 L1254.25 409.21 L1255.64 400.3 L1257.04 391.38 L1258.43 382.46 L1259.82 373.58 L1261.22 364.75 L1262.61 356.01 L1264 347.39 L1265.4 338.9 L1266.79 330.57 L1268.18 322.45 L1269.58 314.54 L1270.97 306.88 L1272.37 299.5 L1273.76 292.42 L1275.15 285.67 L1276.55 279.28 L1277.94 273.26 L1279.33 267.64 L1280.73 262.44 L1282.12 257.69 L1283.51 253.39 L1284.91 249.58 L1286.3 246.25 L1287.69 243.44 L1289.09 241.14 L1290.48 239.36 L1291.87 238.12 L1293.27 237.42 L1294.66 237.27 L1296.05 237.65 L1297.45 238.58 L1298.84 240.04 L1300.24 242.03 L1301.63 244.55 L1303.02 247.58 L1304.42 251.11 L1305.81 255.13 L1307.2 259.62 L1308.6 264.56 L1309.99 269.94 L1311.38 275.72 L1312.78 281.9 L1314.17 288.45 L1315.56 295.34 L1316.96 302.55 L1318.35 310.05 L1319.74 317.81 L1321.14 325.82 L1322.53 334.03 L1323.92 342.42 L1325.32 350.97 L1326.71 359.65 L1328.11 368.43 L1329.5 377.28 L1330.89 386.18 L1332.29 395.11 L1333.68 404.03 L1335.07 412.92 L1336.47 421.77 L1337.86 430.54 L1339.25 439.23 L1340.65 447.8 L1342.04 456.25 L1343.43 464.55 L1344.83 472.69 L1346.22 480.66 L1347.61 488.44 L1349.01 496.02 L1350.4 503.4 L1351.79 510.55 L1353.19 517.49 L1354.58 524.19 L1355.97 530.66 L1357.37 536.89 L1358.76 542.88 L1360.16 548.63 L1361.55 554.13 L1362.94 559.4 L1364.34 564.42 L1365.73 569.21 L1367.12 573.77 L1368.52 578.09 L1369.91 582.19 L1371.3 586.07 L1372.7 589.73 L1374.09 593.18 L1375.48 596.43 L1376.88 599.49 L1378.27 602.36 L1379.66 605.04 L1381.06 607.56 L1382.45 609.9 L1383.85 612.09 L1385.24 614.13 L1386.63 616.02 L1388.03 617.77 L1389.42 619.4 L1390.81 620.9 L1392.21 622.29 L1393.6 623.57 L1394.99 624.75 L1396.39 625.83 L1397.78 626.83 L1399.17 627.74 L1400.57 628.57 L1401.96 629.33 L1403.35 630.03 L1404.75 630.66 L1406.14 631.23 L1407.53 631.75 L1408.93 632.23 L1410.32 632.66 L1411.71 633.04 L1413.11 633.39 L1414.5 633.71 L1415.9 633.99 L1417.29 634.24 L1418.68 634.47 L1420.08 634.68 L1421.47 634.86 L1422.86 635.02 L1424.26 635.17 L1425.65 635.3 L1427.04 635.41 L1428.44 635.51 L1429.83 635.61 L1431.22 635.69 L1432.62 635.76 L1434.01 635.82 L1435.4 635.87 L1436.8 635.92 L1438.19 635.97 L1439.59 636 L1440.98 636.04 L1442.37 636.06 L1443.77 636.09 L1445.16 636.11 L1446.55 636.13 L1447.95 636.15 L1449.34 636.16 L1450.73 636.17 L1452.13 636.18 L1453.52 636.19 L1454.91 636.2 L1456.31 636.21 L1457.7 636.22 L1459.09 636.22 L1460.49 636.22 L1461.88 636.23 L1463.27 636.23 L1464.67 636.23 L1466.06 636.24 L1467.45 636.24 L1468.85 636.24 L1470.24 636.24 L1471.64 636.24 L1473.03 636.24 L1474.42 636.25 L1475.82 636.25 L1477.21 636.25 L1478.6 636.25 L1480 636.25 L1481.39 636.25 L1482.78 636.25 L1484.18 636.25 L1485.57 636.25 L1486.96 636.25 L1488.36 636.25 L1489.75 636.25 L1491.14 636.25 L1492.54 636.25 L1493.93 636.25 L1495.33 636.25 L1496.72 636.25 L1498.11 636.25 L1499.51 636.25 L1500.9 636.25 L1502.29 636.25 L1503.69 636.25 L1505.08 636.25 L1506.47 636.25 L1507.87 636.25 L1509.26 636.25 L1510.65 636.25 L1512.05 636.25 L1513.44 636.25 L1514.83 636.25 L1516.23 636.25 L1517.62 636.25 L1519.01 636.25 L1520.41 636.25 L1521.8 636.25 L1523.19 636.25 L1524.59 636.25 L1525.98 636.25 L1527.38 636.25 L1528.77 636.25 L1530.16 636.25 L1531.56 636.25 L1532.95 636.25 L1534.34 636.25 L1535.74 636.25 L1537.13 636.25 L1538.52 636.25 L1539.92 636.25 L1541.31 636.25 L1542.7 636.25 L1544.1 636.25 L1545.49 636.25 L1546.88 636.25 L1548.28 636.25 L1549.67 636.25 L1551.07 636.25 L1552.46 636.25 L1553.85 636.25 L1555.25 636.25 L1556.64 636.25 L1558.03 636.25 L1559.43 636.25 L1560.82 636.25 L1562.21 636.25 L1563.61 636.25 L1565 636.25" fill="none" stroke="#007f00" stroke-width="6.2" stroke-linejoin="round" stroke-dasharray="49.5 12.5 8.5 12.5" stroke-dashoffset="7.33"/>
<path d="M1007.6 636.25 L1008.99 636.25 L1010.39 636.25 L1011.78 636.25 L1013.17 636.25 L1014.57 636.25 L1015.96 636.25 L1017.35 636.25 L1018.75 636.25 L1020.14 636.25 L1021.53 636.25 L1022.93 636.25 L1024.32 636.25 L1025.72 636.25 L1027.11 636.25 L1028.5 636.25 L1029.9 636.25 L1031.29 636.25 L1032.68 636.25 L1034.08 636.25 L1035.47 636.25 L1036.86 636.25 L1038.26 636.25 L1039.65 636.25 L1041.04 636.25 L1042.44 636.25 L1043.83 636.25 L1045.22 636.25 L1046.62 636.25 L1048.01 636.25 L1049.4 636.25 L1050.8 636.25 L1052.19 636.25 L1053.59 636.25 L1054.98 636.25 L1056.37 636.25 L1057.77 636.25 L1059.16 636.25 L1060.55 636.25 L1061.95 636.25 L1063.34 636.25 L1064.73 636.25 L1066.13 636.25 L1067.52 636.25 L1068.91 636.25 L1070.31 636.25 L1071.7 636.25 L1073.09 636.25 L1074.49 636.25 L1075.88 636.25 L1077.28 636.25 L1078.67 636.25 L1080.06 636.25 L1081.46 636.25 L1082.85 636.25 L1084.24 636.25 L1085.64 636.25 L1087.03 636.25 L1088.42 636.25 L1089.82 636.25 L1091.21 636.25 L1092.6 636.25 L1094 636.25 L1095.39 636.25 L1096.78 636.25 L1098.18 636.25 L1099.57 636.25 L1100.96 636.25 L1102.36 636.25 L1103.75 636.25 L1105.14 636.25 L1106.54 636.25 L1107.93 636.25 L1109.33 636.25 L1110.72 636.25 L1112.11 636.25 L1113.51 636.25 L1114.9 636.25 L1116.29 636.25 L1117.69 636.25 L1119.08 636.25 L1120.47 636.25 L1121.87 636.25 L1123.26 636.25 L1124.65 636.25 L1126.05 636.25 L1127.44 636.24 L1128.83 636.24 L1130.23 636.24 L1131.62 636.24 L1133.02 636.24 L1134.41 636.24 L1135.8 636.24 L1137.2 636.24 L1138.59 636.24 L1139.98 636.23 L1141.38 636.23 L1142.77 636.23 L1144.16 636.23 L1145.56 636.23 L1146.95 636.22 L1148.34 636.22 L1149.74 636.22 L1151.13 636.21 L1152.52 636.21 L1153.92 636.2 L1155.31 636.2 L1156.7 636.19 L1158.1 636.19 L1159.49 636.18 L1160.88 636.17 L1162.28 636.16 L1163.67 636.15 L1165.07 636.14 L1166.46 636.13 L1167.85 636.12 L1169.25 636.1 L1170.64 636.09 L1172.03 636.07 L1173.43 636.05 L1174.82 636.03 L1176.21 636.01 L1177.61 635.99 L1179 635.96 L1180.39 635.93 L1181.79 635.9 L1183.18 635.86 L1184.57 635.83 L1185.97 635.79 L1187.36 635.74 L1188.76 635.69 L1190.15 635.64 L1191.54 635.59 L1192.94 635.53 L1194.33 635.46 L1195.72 635.39 L1197.12 635.31 L1198.51 635.23 L1199.9 635.14 L1201.3 635.04 L1202.69 634.94 L1204.08 634.82 L1205.48 634.7 L1206.87 634.57 L1208.26 634.43 L1209.66 634.28 L1211.05 634.12 L1212.44 633.94 L1213.84 633.76 L1215.23 633.56 L1216.62 633.35 L1218.02 633.12 L1219.41 632.88 L1220.81 632.62 L1222.2 632.35 L1223.59 632.05 L1224.99 631.74 L1226.38 631.41 L1227.77 631.06 L1229.17 630.68 L1230.56 630.29 L1231.95 629.87 L1233.35 629.42 L1234.74 628.95 L1236.13 628.45 L1237.53 627.93 L1238.92 627.37 L1240.31 626.79 L1241.71 626.17 L1243.1 625.52 L1244.5 624.84 L1245.89 624.12 L1247.28 623.37 L1248.68 622.57 L1250.07 621.74 L1251.46 620.87 L1252.86 619.96 L1254.25 619.01 L1255.64 618.02 L1257.04 616.98 L1258.43 615.9 L1259.82 614.77 L1261.22 613.6 L1262.61 612.38 L1264 611.11 L1265.4 609.79 L1266.79 608.42 L1268.18 607 L1269.58 605.54 L1270.97 604.02 L1272.37 602.45 L1273.76 600.83 L1275.15 599.15 L1276.55 597.43 L1277.94 595.66 L1279.33 593.83 L1280.73 591.95 L1282.12 590.03 L1283.51 588.05 L1284.91 586.02 L1286.3 583.95 L1287.69 581.83 L1289.09 579.66 L1290.48 577.45 L1291.87 575.2 L1293.27 572.9 L1294.66 570.57 L1296.05 568.19 L1297.45 565.79 L1298.84 563.34 L1300.24 560.87 L1301.63 558.37 L1303.02 555.84 L1304.42 553.29 L1305.81 550.72 L1307.2 548.13 L1308.6 545.53 L1309.99 542.92 L1311.38 540.3 L1312.78 537.67 L1314.17 535.05 L1315.56 532.43 L1316.96 529.82 L1318.35 527.22 L1319.74 524.63 L1321.14 522.07 L1322.53 519.53 L1323.92 517.02 L1325.32 514.54 L1326.71 512.09 L1328.11 509.69 L1329.5 507.33 L1330.89 505.02 L1332.29 502.77 L1333.68 500.57 L1335.07 498.43 L1336.47 496.36 L1337.86 494.35 L1339.25 492.42 L1340.65 490.57 L1342.04 488.79 L1343.43 487.1 L1344.83 485.49 L1346.22 483.97 L1347.61 482.54 L1349.01 481.21 L1350.4 479.97 L1351.79 478.83 L1353.19 477.78 L1354.58 476.83 L1355.97 475.99 L1357.37 475.24 L1358.76 474.6 L1360.16 474.05 L1361.55 473.61 L1362.94 473.26 L1364.34 473.01 L1365.73 472.86 L1367.12 472.8 L1368.52 472.83 L1369.91 472.96 L1371.3 473.17 L1372.7 473.48 L1374.09 473.86 L1375.48 474.33 L1376.88 474.89 L1378.27 475.52 L1379.66 476.24 L1381.06 477.03 L1382.45 477.91 L1383.85 478.86 L1385.24 479.9 L1386.63 481.01 L1388.03 482.21 L1389.42 483.49 L1390.81 484.85 L1392.21 486.3 L1393.6 487.84 L1394.99 489.46 L1396.39 491.18 L1397.78 492.99 L1399.17 494.88 L1400.57 496.87 L1401.96 498.94 L1403.35 501.1 L1404.75 503.35 L1406.14 505.67 L1407.53 508.07 L1408.93 510.54 L1410.32 513.07 L1411.71 515.66 L1413.11 518.3 L1414.5 520.98 L1415.9 523.69 L1417.29 526.43 L1418.68 529.18 L1420.08 531.94 L1421.47 534.7 L1422.86 537.44 L1424.26 540.17 L1425.65 542.88 L1427.04 545.56 L1428.44 548.2 L1429.83 550.81 L1431.22 553.36 L1432.62 555.88 L1434.01 558.34 L1435.4 560.76 L1436.8 563.12 L1438.19 565.44 L1439.59 567.7 L1440.98 569.92 L1442.37 572.09 L1443.77 574.21 L1445.16 576.3 L1446.55 578.34 L1447.95 580.34 L1449.34 582.31 L1450.73 584.24 L1452.13 586.14 L1453.52 588.01 L1454.91 589.84 L1456.31 591.65 L1457.7 593.43 L1459.09 595.18 L1460.49 596.9 L1461.88 598.58 L1463.27 600.24 L1464.67 601.87 L1466.06 603.46 L1467.45 605.02 L1468.85 606.55 L1470.24 608.03 L1471.64 609.48 L1473.03 610.89 L1474.42 612.26 L1475.82 613.59 L1477.21 614.87 L1478.6 616.1 L1480 617.3 L1481.39 618.44 L1482.78 619.54 L1484.18 620.59 L1485.57 621.59 L1486.96 622.55 L1488.36 623.46 L1489.75 624.32 L1491.14 625.13 L1492.54 625.91 L1493.93 626.63 L1495.33 627.32 L1496.72 627.96 L1498.11 628.57 L1499.51 629.14 L1500.9 629.67 L1502.29 630.16 L1503.69 630.62 L1505.08 631.05 L1506.47 631.45 L1507.87 631.82 L1509.26 632.17 L1510.65 632.49 L1512.05 632.79 L1513.44 633.06 L1514.83 633.32 L1516.23 633.55 L1517.62 633.77 L1519.01 633.97 L1520.41 634.15 L1521.8 634.32 L1523.19 634.48 L1524.59 634.63 L1525.98 634.76 L1527.38 634.88 L1528.77 635 L1530.16 635.1 L1531.56 635.2 L1532.95 635.29 L1534.34 635.37 L1535.74 635.44 L1537.13 635.51 L1538.52 635.58 L1539.92 635.63 L1541.31 635.69 L1542.7 635.74 L1544.1 635.78 L1545.49 635.82 L1546.88 635.86 L1548.28 635.9 L1549.67 635.93 L1551.07 635.96 L1552.46 635.98 L1553.85 636.01 L1555.25 636.03 L1556.64 636.05 L1558.03 636.07 L1559.43 636.09 L1560.82 636.1 L1562.21 636.12 L1563.61 636.13 L1565 636.14" fill="none" stroke="#850085" stroke-width="6.2" stroke-linejoin="round" stroke-dasharray="22 7.3 8 7.3 8 7.3" stroke-dashoffset="59.08"/>
<path d="M1007.6 629.06 L1008.99 628.26 L1010.39 627.39 L1011.78 626.44 L1013.17 625.4 L1014.57 624.28 L1015.96 623.06 L1017.35 621.73 L1018.75 620.3 L1020.14 618.76 L1021.53 617.1 L1022.93 615.32 L1024.32 613.4 L1025.72 611.35 L1027.11 609.16 L1028.5 606.83 L1029.9 604.34 L1031.29 601.7 L1032.68 598.9 L1034.08 595.93 L1035.47 592.81 L1036.86 589.51 L1038.26 586.04 L1039.65 582.4 L1041.04 578.59 L1042.44 574.61 L1043.83 570.46 L1045.22 566.14 L1046.62 561.65 L1048.01 557.01 L1049.4 552.21 L1050.8 547.26 L1052.19 542.17 L1053.59 536.94 L1054.98 531.59 L1056.37 526.13 L1057.77 520.57 L1059.16 514.92 L1060.55 509.19 L1061.95 503.41 L1063.34 497.58 L1064.73 491.72 L1066.13 485.86 L1067.52 480 L1068.91 474.17 L1070.31 468.39 L1071.7 462.67 L1073.09 457.04 L1074.49 451.51 L1075.88 446.12 L1077.28 440.86 L1078.67 435.78 L1080.06 430.88 L1081.46 426.18 L1082.85 421.7 L1084.24 417.46 L1085.64 413.47 L1087.03 409.75 L1088.42 406.32 L1089.82 403.17 L1091.21 400.33 L1092.6 397.8 L1094 395.58 L1095.39 393.68 L1096.78 392.11 L1098.18 390.87 L1099.57 389.94 L1100.96 389.33 L1102.36 389.03 L1103.75 389.04 L1105.14 389.34 L1106.54 389.92 L1107.93 390.77 L1109.33 391.86 L1110.72 393.19 L1112.11 394.74 L1113.51 396.47 L1114.9 398.38 L1116.29 400.44 L1117.69 402.63 L1119.08 404.91 L1120.47 407.28 L1121.87 409.7 L1123.26 412.15 L1124.65 414.6 L1126.05 417.04 L1127.44 419.43 L1128.83 421.76 L1130.23 424 L1131.62 426.13 L1133.02 428.13 L1134.41 429.98 L1135.8 431.66 L1137.2 433.16 L1138.59 434.44 L1139.98 435.51 L1141.38 436.33 L1142.77 436.9 L1144.16 437.2 L1145.56 437.23 L1146.95 436.96 L1148.34 436.39 L1149.74 435.5 L1151.13 434.3 L1152.52 432.78 L1153.92 430.93 L1155.31 428.74 L1156.7 426.23 L1158.1 423.39 L1159.49 420.23 L1160.88 416.76 L1162.28 412.97 L1163.67 408.89 L1165.07 404.53 L1166.46 399.9 L1167.85 395.02 L1169.25 389.91 L1170.64 384.59 L1172.03 379.09 L1173.43 373.43 L1174.82 367.63 L1176.21 361.72 L1177.61 355.72 L1179 349.67 L1180.39 343.6 L1181.79 337.52 L1183.18 331.47 L1184.57 325.48 L1185.97 319.56 L1187.36 313.75 L1188.76 308.07 L1190.15 302.53 L1191.54 297.17 L1192.94 291.99 L1194.33 287.03 L1195.72 282.28 L1197.12 277.77 L1198.51 273.5 L1199.9 269.49 L1201.3 265.73 L1202.69 262.24 L1204.08 259.01 L1205.48 256.05 L1206.87 253.35 L1208.26 250.9 L1209.66 248.7 L1211.05 246.74 L1212.44 245.01 L1213.84 243.5 L1215.23 242.18 L1216.62 241.06 L1218.02 240.1 L1219.41 239.29 L1220.81 238.62 L1222.2 238.06 L1223.59 237.6 L1224.99 237.21 L1226.38 236.88 L1227.77 236.58 L1229.17 236.3 L1230.56 236.02 L1231.95 235.72 L1233.35 235.38 L1234.74 234.99 L1236.13 234.53 L1237.53 233.98 L1238.92 233.34 L1240.31 232.59 L1241.71 231.72 L1243.1 230.72 L1244.5 229.58 L1245.89 228.3 L1247.28 226.87 L1248.68 225.29 L1250.07 223.55 L1251.46 221.65 L1252.86 219.6 L1254.25 217.39 L1255.64 215.03 L1257.04 212.53 L1258.43 209.88 L1259.82 207.11 L1261.22 204.22 L1262.61 201.21 L1264 198.11 L1265.4 194.92 L1266.79 191.67 L1268.18 188.37 L1269.58 185.03 L1270.97 181.68 L1272.37 178.33 L1273.76 175.01 L1275.15 171.75 L1276.55 168.55 L1277.94 165.45 L1279.33 162.46 L1280.73 159.62 L1282.12 156.94 L1283.51 154.44 L1284.91 152.16 L1286.3 150.11 L1287.69 148.31 L1289.09 146.79 L1290.48 145.55 L1291.87 144.62 L1293.27 144.01 L1294.66 143.74 L1296.05 143.82 L1297.45 144.25 L1298.84 145.05 L1300.24 146.21 L1301.63 147.75 L1303.02 149.67 L1304.42 151.95 L1305.81 154.61 L1307.2 157.63 L1308.6 161 L1309.99 164.72 L1311.38 168.78 L1312.78 173.15 L1314.17 177.83 L1315.56 182.8 L1316.96 188.04 L1318.35 193.54 L1319.74 199.26 L1321.14 205.2 L1322.53 211.33 L1323.92 217.62 L1325.32 224.06 L1326.71 230.61 L1328.11 237.27 L1329.5 244 L1330.89 250.78 L1332.29 257.6 L1333.68 264.42 L1335.07 271.23 L1336.47 278.01 L1337.86 284.75 L1339.25 291.41 L1340.65 298 L1342.04 304.49 L1343.43 310.87 L1344.83 317.13 L1346.22 323.26 L1347.61 329.27 L1349.01 335.13 L1350.4 340.85 L1351.79 346.42 L1353.19 351.86 L1354.58 357.15 L1355.97 362.31 L1357.37 367.34 L1358.76 372.24 L1360.16 377.02 L1361.55 381.69 L1362.94 386.26 L1364.34 390.73 L1365.73 395.11 L1367.12 399.41 L1368.52 403.64 L1369.91 407.79 L1371.3 411.89 L1372.7 415.92 L1374.09 419.9 L1375.48 423.83 L1376.88 427.7 L1378.27 431.52 L1379.66 435.3 L1381.06 439.02 L1382.45 442.7 L1383.85 446.33 L1385.24 449.91 L1386.63 453.44 L1388.03 456.93 L1389.42 460.37 L1390.81 463.77 L1392.21 467.12 L1393.6 470.44 L1394.99 473.73 L1396.39 476.98 L1397.78 480.21 L1399.17 483.42 L1400.57 486.6 L1401.96 489.77 L1403.35 492.93 L1404.75 496.08 L1406.14 499.23 L1407.53 502.36 L1408.93 505.5 L1410.32 508.62 L1411.71 511.74 L1413.11 514.85 L1414.5 517.95 L1415.9 521.04 L1417.29 524.1 L1418.68 527.14 L1420.08 530.16 L1421.47 533.14 L1422.86 536.09 L1424.26 538.99 L1425.65 541.85 L1427.04 544.66 L1428.44 547.42 L1429.83 550.12 L1431.22 552.77 L1432.62 555.36 L1434.01 557.9 L1435.4 560.37 L1436.8 562.79 L1438.19 565.14 L1439.59 567.45 L1440.98 569.7 L1442.37 571.9 L1443.77 574.05 L1445.16 576.16 L1446.55 578.22 L1447.95 580.24 L1449.34 582.22 L1450.73 584.17 L1452.13 586.08 L1453.52 587.95 L1454.91 589.8 L1456.31 591.61 L1457.7 593.39 L1459.09 595.15 L1460.49 596.87 L1461.88 598.56 L1463.27 600.22 L1464.67 601.85 L1466.06 603.45 L1467.45 605.01 L1468.85 606.54 L1470.24 608.03 L1471.64 609.48 L1473.03 610.89 L1474.42 612.26 L1475.82 613.58 L1477.21 614.86 L1478.6 616.1 L1480 617.29 L1481.39 618.44 L1482.78 619.54 L1484.18 620.59 L1485.57 621.59 L1486.96 622.55 L1488.36 623.45 L1489.75 624.32 L1491.14 625.13 L1492.54 625.91 L1493.93 626.63 L1495.33 627.32 L1496.72 627.96 L1498.11 628.57 L1499.51 629.14 L1500.9 629.67 L1502.29 630.16 L1503.69 630.62 L1505.08 631.05 L1506.47 631.45 L1507.87 631.82 L1509.26 632.17 L1510.65 632.49 L1512.05 632.79 L1513.44 633.06 L1514.83 633.32 L1516.23 633.55 L1517.62 633.77 L1519.01 633.97 L1520.41 634.15 L1521.8 634.32 L1523.19 634.48 L1524.59 634.63 L1525.98 634.76 L1527.38 634.88 L1528.77 635 L1530.16 635.1 L1531.56 635.2 L1532.95 635.29 L1534.34 635.37 L1535.74 635.44 L1537.13 635.51 L1538.52 635.58 L1539.92 635.63 L1541.31 635.69 L1542.7 635.74 L1544.1 635.78 L1545.49 635.82 L1546.88 635.86 L1548.28 635.9 L1549.67 635.93 L1551.07 635.96 L1552.46 635.98 L1553.85 636.01 L1555.25 636.03 L1556.64 636.05 L1558.03 636.07 L1559.43 636.09 L1560.82 636.1 L1562.21 636.12 L1563.61 636.13 L1565 636.14" fill="none" stroke="#ff0a3c" stroke-width="9.2" stroke-linejoin="round"/>
</g>
<rect x="1007.6" y="135" width="557.4" height="501.25" fill="none" stroke="#000" stroke-width="5"/>
<line x1="995.1" y1="636.25" x2="1007.6" y2="636.25" stroke="#000" stroke-width="4.5"/>
<text transform="translate(983.6,651.45) scale(0.82,1)" font-family="'DejaVu Sans','Liberation Sans',sans-serif" font-size="39" text-anchor="end" fill="#ff0000">0.00</text>
<line x1="999.6" y1="586.12" x2="1007.6" y2="586.12" stroke="#000" stroke-width="3.5"/>
<line x1="995.1" y1="536" x2="1007.6" y2="536" stroke="#000" stroke-width="4.5"/>
<text transform="translate(983.6,551.2) scale(0.82,1)" font-family="'DejaVu Sans','Liberation Sans',sans-serif" font-size="39" text-anchor="end" fill="#ff0000">0.01</text>
<line x1="999.6" y1="485.88" x2="1007.6" y2="485.88" stroke="#000" stroke-width="3.5"/>
<line x1="995.1" y1="435.75" x2="1007.6" y2="435.75" stroke="#000" stroke-width="4.5"/>
<text transform="translate(983.6,450.95) scale(0.82,1)" font-family="'DejaVu Sans','Liberation Sans',sans-serif" font-size="39" text-anchor="end" fill="#ff0000">0.02</text>
<line x1="999.6" y1="385.62" x2="1007.6" y2="385.62" stroke="#000" stroke-width="3.5"/>
<line x1="995.1" y1="335.5" x2="1007.6" y2="335.5" stroke="#000" stroke-width="4.5"/>
<text transform="translate(983.6,350.7) scale(0.82,1)" font-family="'DejaVu Sans','Liberation Sans',sans-serif" font-size="39" text-anchor="end" fill="#ff0000">0.03</text>
<line x1="999.6" y1="285.37" x2="1007.6" y2="285.37" stroke="#000" stroke-width="3.5"/>
<line x1="995.1" y1="235.25" x2="1007.6" y2="235.25" stroke="#000" stroke-width="4.5"/>
<text transform="translate(983.6,250.45) scale(0.82,1)" font-family="'DejaVu Sans','Liberation Sans',sans-serif" font-size="39" text-anchor="end" fill="#ff0000">0.04</text>
<line x1="999.6" y1="185.13" x2="1007.6" y2="185.13" stroke="#000" stroke-width="3.5"/>
<line x1="995.1" y1="135" x2="1007.6" y2="135" stroke="#000" stroke-width="4.5"/>
<text transform="translate(983.6,150.2) scale(0.82,1)" font-family="'DejaVu Sans','Liberation Sans',sans-serif" font-size="39" text-anchor="end" fill="#ff0000">0.05</text>
<line x1="1565" y1="636.25" x2="1577.5" y2="636.25" stroke="#000" stroke-width="4.5"/>
<text transform="translate(1587.5,651.45) scale(0.84,1)" font-family="'DejaVu Sans','Liberation Sans',sans-serif" font-size="39" text-anchor="start" fill="#1212ff">0</text>
<line x1="1565" y1="594.48" x2="1573" y2="594.48" stroke="#000" stroke-width="3.5"/>
<line x1="1565" y1="552.71" x2="1577.5" y2="552.71" stroke="#000" stroke-width="4.5"/>
<text transform="translate(1587.5,567.91) scale(0.84,1)" font-family="'DejaVu Sans','Liberation Sans',sans-serif" font-size="39" text-anchor="start" fill="#1212ff">200</text>
<line x1="1565" y1="510.94" x2="1573" y2="510.94" stroke="#000" stroke-width="3.5"/>
<line x1="1565" y1="469.17" x2="1577.5" y2="469.17" stroke="#000" stroke-width="4.5"/>
<text transform="translate(1587.5,484.37) scale(0.84,1)" font-family="'DejaVu Sans','Liberation Sans',sans-serif" font-size="39" text-anchor="start" fill="#1212ff">400</text>
<line x1="1565" y1="427.4" x2="1573" y2="427.4" stroke="#000" stroke-width="3.5"/>
<line x1="1565" y1="385.62" x2="1577.5" y2="385.62" stroke="#000" stroke-width="4.5"/>
<text transform="translate(1587.5,400.82) scale(0.84,1)" font-family="'DejaVu Sans','Liberation Sans',sans-serif" font-size="39" text-anchor="start" fill="#1212ff">600</text>
<line x1="1565" y1="343.85" x2="1573" y2="343.85" stroke="#000" stroke-width="3.5"/>
<line x1="1565" y1="302.08" x2="1577.5" y2="302.08" stroke="#000" stroke-width="4.5"/>
<text transform="translate(1587.5,317.28) scale(0.84,1)" font-family="'DejaVu Sans','Liberation Sans',sans-serif" font-size="39" text-anchor="start" fill="#1212ff">800</text>
<line x1="1565" y1="260.31" x2="1573" y2="260.31" stroke="#000" stroke-width="3.5"/>
<line x1="1565" y1="218.54" x2="1577.5" y2="218.54" stroke="#000" stroke-width="4.5"/>
<text transform="translate(1587.5,233.74) scale(0.84,1)" font-family="'DejaVu Sans','Liberation Sans',sans-serif" font-size="39" text-anchor="start" fill="#1212ff">1000</text>
<line x1="1565" y1="176.77" x2="1573" y2="176.77" stroke="#000" stroke-width="3.5"/>
<line x1="1565" y1="135" x2="1577.5" y2="135" stroke="#000" stroke-width="4.5"/>
<text transform="translate(1587.5,150.2) scale(0.84,1)" font-family="'DejaVu Sans','Liberation Sans',sans-serif" font-size="39" text-anchor="start" fill="#1212ff">1200</text>
<line x1="1030.25" y1="636.25" x2="1030.25" y2="643.75" stroke="#000" stroke-width="3.5"/>
<line x1="1053.5" y1="636.25" x2="1053.5" y2="643.75" stroke="#000" stroke-width="3.5"/>
<line x1="1076.75" y1="636.25" x2="1076.75" y2="643.75" stroke="#000" stroke-width="3.5"/>
<line x1="1100" y1="636.25" x2="1100" y2="649.25" stroke="#000" stroke-width="4.5"/>
<text transform="translate(1100,689.5) scale(0.88,1)" font-family="'DejaVu Sans','Liberation Sans',sans-serif" font-size="38" text-anchor="middle" fill="#000">10</text>
<line x1="1123.25" y1="636.25" x2="1123.25" y2="643.75" stroke="#000" stroke-width="3.5"/>
<line x1="1146.5" y1="636.25" x2="1146.5" y2="643.75" stroke="#000" stroke-width="3.5"/>
<line x1="1169.75" y1="636.25" x2="1169.75" y2="643.75" stroke="#000" stroke-width="3.5"/>
<line x1="1193" y1="636.25" x2="1193" y2="643.75" stroke="#000" stroke-width="3.5"/>
<line x1="1216.25" y1="636.25" x2="1216.25" y2="649.25" stroke="#000" stroke-width="4.5"/>
<text transform="translate(1216.25,689.5) scale(0.88,1)" font-family="'DejaVu Sans','Liberation Sans',sans-serif" font-size="38" text-anchor="middle" fill="#000">20</text>
<line x1="1239.5" y1="636.25" x2="1239.5" y2="643.75" stroke="#000" stroke-width="3.5"/>
<line x1="1262.75" y1="636.25" x2="1262.75" y2="643.75" stroke="#000" stroke-width="3.5"/>
<line x1="1286" y1="636.25" x2="1286" y2="643.75" stroke="#000" stroke-width="3.5"/>
<line x1="1309.25" y1="636.25" x2="1309.25" y2="643.75" stroke="#000" stroke-width="3.5"/>
<line x1="1332.5" y1="636.25" x2="1332.5" y2="649.25" stroke="#000" stroke-width="4.5"/>
<text transform="translate(1332.5,689.5) scale(0.88,1)" font-family="'DejaVu Sans','Liberation Sans',sans-serif" font-size="38" text-anchor="middle" fill="#000">30</text>
<line x1="1355.75" y1="636.25" x2="1355.75" y2="643.75" stroke="#000" stroke-width="3.5"/>
<line x1="1379" y1="636.25" x2="1379" y2="643.75" stroke="#000" stroke-width="3.5"/>
<line x1="1402.25" y1="636.25" x2="1402.25" y2="643.75" stroke="#000" stroke-width="3.5"/>
<line x1="1425.5" y1="636.25" x2="1425.5" y2="643.75" stroke="#000" stroke-width="3.5"/>
<line x1="1448.75" y1="636.25" x2="1448.75" y2="649.25" stroke="#000" stroke-width="4.5"/>
<text transform="translate(1448.75,689.5) scale(0.88,1)" font-family="'DejaVu Sans','Liberation Sans',sans-serif" font-size="38" text-anchor="middle" fill="#000">40</text>
<line x1="1472" y1="636.25" x2="1472" y2="643.75" stroke="#000" stroke-width="3.5"/>
<line x1="1495.25" y1="636.25" x2="1495.25" y2="643.75" stroke="#000" stroke-width="3.5"/>
<line x1="1518.5" y1="636.25" x2="1518.5" y2="643.75" stroke="#000" stroke-width="3.5"/>
<line x1="1541.75" y1="636.25" x2="1541.75" y2="643.75" stroke="#000" stroke-width="3.5"/>
<line x1="1565" y1="636.25" x2="1565" y2="649.25" stroke="#000" stroke-width="4.5"/>
<text transform="translate(1565,689.5) scale(0.88,1)" font-family="'DejaVu Sans','Liberation Sans',sans-serif" font-size="38" text-anchor="middle" fill="#000">50</text>
<text transform="translate(1286.3,737) scale(0.91,1)" font-family="'DejaVu Sans','Liberation Sans',sans-serif" font-size="36" text-anchor="middle" fill="#000">Amplitude (pm)</text>
<text transform="translate(882.6,386.62) rotate(-90) scale(1.11,1)" font-family="'DejaVu Sans','Liberation Sans',sans-serif" font-size="33.3" text-anchor="middle" fill="#ff0000" dy="0.35em">Probability density</text>
<text transform="translate(1694.5,389.23) rotate(-90) scale(1.07,1)" font-family="'DejaVu Sans','Liberation Sans',sans-serif" font-size="34.2" text-anchor="middle" fill="#1212ff" dy="0.35em">Count</text>
</g>
<g id="panel-d">
<text transform="translate(913,737.5)" font-family="'DejaVu Sans','Liberation Sans',sans-serif" font-size="88" text-anchor="start" fill="#000" stroke="#fff" stroke-width="1">d</text>
<clipPath id="clipd"><rect x="1000.2" y="816.9" width="556.55" height="501"/></clipPath>
<line x1="1092" y1="816.9" x2="1092" y2="1317.9" stroke="#dcdcdc" stroke-width="1.8" stroke-dasharray="9.5 3.2" stroke-opacity="0.5"/>
<line x1="1208.2" y1="816.9" x2="1208.2" y2="1317.9" stroke="#dcdcdc" stroke-width="1.8" stroke-dasharray="9.5 3.2" stroke-opacity="0.5"/>
<line x1="1324.4" y1="816.9" x2="1324.4" y2="1317.9" stroke="#dcdcdc" stroke-width="1.8" stroke-dasharray="9.5 3.2" stroke-opacity="0.5"/>
<line x1="1440.6" y1="816.9" x2="1440.6" y2="1317.9" stroke="#dcdcdc" stroke-width="1.8" stroke-dasharray="9.5 3.2" stroke-opacity="0.5"/>
<line x1="1000.2" y1="1255.28" x2="1556.75" y2="1255.28" stroke="#dcdcdc" stroke-width="1.8" stroke-dasharray="9.5 3.2" stroke-opacity="0.5"/>
<line x1="1000.2" y1="1192.65" x2="1556.75" y2="1192.65" stroke="#dcdcdc" stroke-width="1.8" stroke-dasharray="9.5 3.2" stroke-opacity="0.5"/>
<line x1="1000.2" y1="1130.03" x2="1556.75" y2="1130.03" stroke="#dcdcdc" stroke-width="1.8" stroke-dasharray="9.5 3.2" stroke-opacity="0.5"/>
<line x1="1000.2" y1="1067.4" x2="1556.75" y2="1067.4" stroke="#dcdcdc" stroke-width="1.8" stroke-dasharray="9.5 3.2" stroke-opacity="0.5"/>
<line x1="1000.2" y1="1004.77" x2="1556.75" y2="1004.77" stroke="#dcdcdc" stroke-width="1.8" stroke-dasharray="9.5 3.2" stroke-opacity="0.5"/>
<line x1="1000.2" y1="942.15" x2="1556.75" y2="942.15" stroke="#dcdcdc" stroke-width="1.8" stroke-dasharray="9.5 3.2" stroke-opacity="0.5"/>
<line x1="1000.2" y1="879.52" x2="1556.75" y2="879.52" stroke="#dcdcdc" stroke-width="1.8" stroke-dasharray="9.5 3.2" stroke-opacity="0.5"/>
<line x1="1000.2" y1="1234.4" x2="1556.75" y2="1234.4" stroke="#dcdcdc" stroke-width="1.8" stroke-dasharray="9.5 3.2" stroke-opacity="0.5"/>
<line x1="1000.2" y1="1150.9" x2="1556.75" y2="1150.9" stroke="#dcdcdc" stroke-width="1.8" stroke-dasharray="9.5 3.2" stroke-opacity="0.5"/>
<line x1="1000.2" y1="1067.4" x2="1556.75" y2="1067.4" stroke="#dcdcdc" stroke-width="1.8" stroke-dasharray="9.5 3.2" stroke-opacity="0.5"/>
<line x1="1000.2" y1="983.9" x2="1556.75" y2="983.9" stroke="#dcdcdc" stroke-width="1.8" stroke-dasharray="9.5 3.2" stroke-opacity="0.5"/>
<line x1="1000.2" y1="900.4" x2="1556.75" y2="900.4" stroke="#dcdcdc" stroke-width="1.8" stroke-dasharray="9.5 3.2" stroke-opacity="0.5"/>
<g clip-path="url(#clipd)">
<path d="M1014.4 1317.9 L1014.4 1301.2 L1028.31 1301.2 L1028.31 1258.62 L1042.22 1258.62 L1042.22 1243.17 L1056.13 1243.17 L1056.13 1226.47 L1070.04 1226.47 L1070.04 1226.47 L1083.95 1226.47 L1083.95 1246.93 L1097.86 1246.93 L1097.86 1245.67 L1111.77 1245.67 L1111.77 1244.42 L1125.68 1244.42 L1125.68 1216.45 L1139.59 1216.45 L1139.59 1188.06 L1153.5 1188.06 L1153.5 1184.3 L1167.41 1184.3 L1167.41 1167.6 L1181.32 1167.6 L1181.32 1138.38 L1195.23 1138.38 L1195.23 1106.23 L1209.14 1106.23 L1209.14 1088.28 L1223.05 1088.28 L1223.05 1079.92 L1236.96 1079.92 L1236.96 1037.34 L1250.87 1037.34 L1250.87 1021.89 L1264.78 1021.89 L1264.78 980.98 L1278.69 980.98 L1278.69 996.01 L1292.6 996.01 L1292.6 988.91 L1306.51 988.91 L1306.51 1018.55 L1320.42 1018.55 L1320.42 1021.48 L1334.33 1021.48 L1334.33 1076.59 L1348.24 1076.59 L1348.24 1115.41 L1362.15 1115.41 L1362.15 1144.64 L1376.06 1144.64 L1376.06 1188.48 L1389.97 1188.48 L1389.97 1225.22 L1403.88 1225.22 L1403.88 1258.62 L1417.79 1258.62 L1417.79 1272.39 L1431.7 1272.39 L1431.7 1285.75 L1445.61 1285.75 L1445.61 1297.86 L1459.52 1297.86 L1459.52 1304.54 L1473.43 1304.54 L1473.43 1309.55 L1487.34 1309.55 L1487.34 1313.31 L1501.25 1313.31 L1501.25 1315.81 L1515.16 1315.81 L1515.16 1317.07 L1529.07 1317.07 L1529.07 1317.9 Z" fill="#60b5fc" stroke="none" stroke-width="0" stroke-linejoin="round"/>
<path d="M1089.26 1220.48 L1090.65 1220.27 L1092.04 1220.21 L1093.43 1220.28 L1094.82 1220.49 L1096.21 1220.85 L1097.61 1221.34 L1099 1221.97 L1100.39 1222.74 L1101.78 1223.63 L1103.17 1224.65 L1104.56 1225.79 L1105.95 1227.05 L1107.35 1228.42 L1108.74 1229.9 L1110.13 1231.48 L1111.52 1233.15 L1112.91 1234.92 L1114.3 1236.76 L1115.69 1238.67 L1117.09 1240.65 L1118.48 1242.69 L1119.87 1244.79 L1121.26 1246.92 L1122.65 1249.1 L1124.04 1251.3 L1125.43 1253.53 L1126.83 1255.77 L1128.22 1258.02 L1129.61 1260.27 L1131 1262.52 L1132.39 1264.76 L1133.78 1266.98 L1135.18 1269.18 L1136.57 1271.35 L1137.96 1273.48 L1139.35 1275.59 L1140.74 1277.64 L1142.13 1279.66 L1143.52 1281.63 L1144.92 1283.54 L1146.31 1285.4 L1147.7 1287.21 L1149.09 1288.95 L1150.48 1290.64 L1151.87 1292.26 L1153.27 1293.83 L1154.66 1295.33 L1156.05 1296.76 L1157.44 1298.14 L1158.83 1299.45 L1160.22 1300.7 L1161.61 1301.89 L1163.01 1303.02 L1164.4 1304.08 L1165.79 1305.09 L1167.18 1306.05 L1168.57 1306.95 L1169.96 1307.79 L1171.35 1308.58 L1172.75 1309.33 L1174.14 1310.02 L1175.53 1310.67 L1176.92 1311.28 L1178.31 1311.84 L1179.7 1312.36 L1181.1 1312.85 L1182.49 1313.3 L1183.88 1313.72 L1185.27 1314.1 L1186.66 1314.45 L1188.05 1314.78 L1189.44 1315.08 L1190.84 1315.35 L1192.23 1315.6 L1193.62 1315.83 L1195.01 1316.04 L1196.4 1316.23 L1197.79 1316.4 L1199.18 1316.56 L1200.58 1316.7 L1201.97 1316.83 L1203.36 1316.95 L1204.75 1317.05 L1206.14 1317.14 L1207.53 1317.23 L1208.92 1317.31 L1210.32 1317.37 L1211.71 1317.44 L1213.1 1317.49 L1214.49 1317.54 L1215.88 1317.58 L1217.27 1317.62 L1218.67 1317.65 L1220.06 1317.69 L1221.45 1317.71 L1222.84 1317.74 L1224.23 1317.76 L1225.62 1317.78 L1227.01 1317.79 L1228.41 1317.81 L1229.8 1317.82 L1231.19 1317.83 L1232.58 1317.84 L1233.97 1317.85 L1235.36 1317.85 L1236.76 1317.86 L1238.15 1317.87 L1239.54 1317.87 L1240.93 1317.88 L1242.32 1317.88 L1243.71 1317.88 L1245.1 1317.88 L1246.5 1317.89 L1247.89 1317.89 L1249.28 1317.89 L1250.67 1317.89 L1252.06 1317.89 L1253.45 1317.89 L1254.84 1317.9 L1256.24 1317.9 L1257.63 1317.9 L1259.02 1317.9 L1260.41 1317.9 L1261.8 1317.9 L1263.19 1317.9 L1264.59 1317.9 L1265.98 1317.9 L1267.37 1317.9 L1268.76 1317.9 L1270.15 1317.9 L1271.54 1317.9 L1272.93 1317.9 L1274.33 1317.9 L1275.72 1317.9 L1277.11 1317.9 L1278.5 1317.9 L1279.89 1317.9 L1281.28 1317.9 L1282.67 1317.9 L1284.07 1317.9 L1285.46 1317.9 L1286.85 1317.9 L1288.24 1317.9 L1289.63 1317.9 L1291.02 1317.9 L1292.41 1317.9 L1293.81 1317.9 L1295.2 1317.9 L1296.59 1317.9 L1297.98 1317.9 L1299.37 1317.9 L1300.76 1317.9 L1302.16 1317.9 L1303.55 1317.9 L1304.94 1317.9 L1306.33 1317.9 L1307.72 1317.9 L1309.11 1317.9 L1310.5 1317.9 L1311.9 1317.9 L1313.29 1317.9 L1314.68 1317.9 L1316.07 1317.9 L1317.46 1317.9 L1318.85 1317.9 L1320.24 1317.9 L1321.64 1317.9 L1323.03 1317.9 L1324.42 1317.9 L1325.81 1317.9 L1327.2 1317.9 L1328.59 1317.9 L1329.99 1317.9 L1331.38 1317.9 L1332.77 1317.9 L1334.16 1317.9 L1335.55 1317.9 L1336.94 1317.9 L1338.33 1317.9 L1339.73 1317.9 L1341.12 1317.9 L1342.51 1317.9 L1343.9 1317.9 L1345.29 1317.9 L1346.68 1317.9 L1348.08 1317.9 L1349.47 1317.9 L1350.86 1317.9 L1352.25 1317.9 L1353.64 1317.9 L1355.03 1317.9 L1356.42 1317.9 L1357.82 1317.9 L1359.21 1317.9 L1360.6 1317.9 L1361.99 1317.9 L1363.38 1317.9 L1364.77 1317.9 L1366.16 1317.9 L1367.56 1317.9 L1368.95 1317.9 L1370.34 1317.9 L1371.73 1317.9 L1373.12 1317.9 L1374.51 1317.9 L1375.9 1317.9 L1377.3 1317.9 L1378.69 1317.9 L1380.08 1317.9 L1381.47 1317.9 L1382.86 1317.9 L1384.25 1317.9 L1385.65 1317.9 L1387.04 1317.9 L1388.43 1317.9 L1389.82 1317.9 L1391.21 1317.9 L1392.6 1317.9 L1393.99 1317.9 L1395.39 1317.9 L1396.78 1317.9 L1398.17 1317.9 L1399.56 1317.9 L1400.95 1317.9 L1402.34 1317.9 L1403.74 1317.9 L1405.13 1317.9 L1406.52 1317.9 L1407.91 1317.9 L1409.3 1317.9 L1410.69 1317.9 L1412.08 1317.9 L1413.48 1317.9 L1414.87 1317.9 L1416.26 1317.9 L1417.65 1317.9 L1419.04 1317.9 L1420.43 1317.9 L1421.82 1317.9 L1423.22 1317.9 L1424.61 1317.9 L1426 1317.9 L1427.39 1317.9 L1428.78 1317.9 L1430.17 1317.9 L1431.57 1317.9 L1432.96 1317.9 L1434.35 1317.9 L1435.74 1317.9 L1437.13 1317.9 L1438.52 1317.9 L1439.91 1317.9 L1441.31 1317.9 L1442.7 1317.9 L1444.09 1317.9 L1445.48 1317.9 L1446.87 1317.9 L1448.26 1317.9 L1449.65 1317.9 L1451.05 1317.9 L1452.44 1317.9 L1453.83 1317.9 L1455.22 1317.9 L1456.61 1317.9 L1458 1317.9 L1459.39 1317.9 L1460.79 1317.9 L1462.18 1317.9 L1463.57 1317.9 L1464.96 1317.9 L1466.35 1317.9 L1467.74 1317.9 L1469.14 1317.9 L1470.53 1317.9 L1471.92 1317.9 L1473.31 1317.9 L1474.7 1317.9 L1476.09 1317.9 L1477.48 1317.9 L1478.88 1317.9 L1480.27 1317.9 L1481.66 1317.9 L1483.05 1317.9 L1484.44 1317.9 L1485.83 1317.9 L1487.22 1317.9 L1488.62 1317.9 L1490.01 1317.9 L1491.4 1317.9 L1492.79 1317.9 L1494.18 1317.9 L1495.57 1317.9 L1496.97 1317.9 L1498.36 1317.9 L1499.75 1317.9 L1501.14 1317.9 L1502.53 1317.9 L1503.92 1317.9 L1505.31 1317.9 L1506.71 1317.9 L1508.1 1317.9 L1509.49 1317.9 L1510.88 1317.9 L1512.27 1317.9 L1513.66 1317.9 L1515.06 1317.9 L1516.45 1317.9 L1517.84 1317.9 L1519.23 1317.9 L1520.62 1317.9 L1522.01 1317.9 L1523.4 1317.9 L1524.8 1317.9 L1526.19 1317.9 L1527.58 1317.9 L1528.97 1317.9 L1530.36 1317.9 L1531.75 1317.9 L1533.14 1317.9 L1534.54 1317.9 L1535.93 1317.9 L1537.32 1317.9 L1538.71 1317.9 L1540.1 1317.9 L1541.49 1317.9 L1542.88 1317.9 L1544.28 1317.9 L1545.67 1317.9 L1547.06 1317.9 L1548.45 1317.9 L1549.84 1317.9 L1551.23 1317.9 L1552.63 1317.9 L1554.02 1317.9 L1555.41 1317.9 L1556.8 1317.9" fill="none" stroke="#000000" stroke-width="6.2" stroke-linejoin="round" stroke-dasharray="29.5 12.5" stroke-dashoffset="41.83"/>
<path d="M1000.2 1317.9 L1001.59 1317.9 L1002.98 1317.9 L1004.37 1317.9 L1005.77 1317.9 L1007.16 1317.9 L1008.55 1317.9 L1009.94 1317.9 L1011.33 1317.9 L1012.72 1317.9 L1014.12 1317.9 L1015.51 1317.9 L1016.9 1317.9 L1018.29 1317.9 L1019.68 1317.9 L1021.07 1317.9 L1022.46 1317.9 L1023.86 1317.9 L1025.25 1317.9 L1026.64 1317.9 L1028.03 1317.9 L1029.42 1317.9 L1030.81 1317.9 L1032.2 1317.9 L1033.6 1317.9 L1034.99 1317.9 L1036.38 1317.89 L1037.77 1317.89 L1039.16 1317.89 L1040.55 1317.89 L1041.94 1317.89 L1043.34 1317.89 L1044.73 1317.88 L1046.12 1317.88 L1047.51 1317.88 L1048.9 1317.87 L1050.29 1317.87 L1051.69 1317.86 L1053.08 1317.86 L1054.47 1317.85 L1055.86 1317.84 L1057.25 1317.83 L1058.64 1317.82 L1060.03 1317.81 L1061.43 1317.79 L1062.82 1317.77 L1064.21 1317.75 L1065.6 1317.73 L1066.99 1317.71 L1068.38 1317.68 L1069.78 1317.64 L1071.17 1317.6 L1072.56 1317.56 L1073.95 1317.51 L1075.34 1317.45 L1076.73 1317.39 L1078.12 1317.31 L1079.52 1317.23 L1080.91 1317.14 L1082.3 1317.04 L1083.69 1316.92 L1085.08 1316.79 L1086.47 1316.64 L1087.86 1316.48 L1089.26 1316.3 L1090.65 1316.09 L1092.04 1315.87 L1093.43 1315.62 L1094.82 1315.34 L1096.21 1315.03 L1097.61 1314.69 L1099 1314.32 L1100.39 1313.9 L1101.78 1313.45 L1103.17 1312.95 L1104.56 1312.41 L1105.95 1311.82 L1107.35 1311.17 L1108.74 1310.46 L1110.13 1309.69 L1111.52 1308.85 L1112.91 1307.95 L1114.3 1306.97 L1115.69 1305.91 L1117.09 1304.76 L1118.48 1303.53 L1119.87 1302.21 L1121.26 1300.8 L1122.65 1299.28 L1124.04 1297.66 L1125.43 1295.93 L1126.83 1294.08 L1128.22 1292.12 L1129.61 1290.05 L1131 1287.84 L1132.39 1285.52 L1133.78 1283.06 L1135.18 1280.48 L1136.57 1277.76 L1137.96 1274.91 L1139.35 1271.93 L1140.74 1268.81 L1142.13 1265.56 L1143.52 1262.18 L1144.92 1258.66 L1146.31 1255.02 L1147.7 1251.26 L1149.09 1247.37 L1150.48 1243.37 L1151.87 1239.26 L1153.27 1235.05 L1154.66 1230.74 L1156.05 1226.35 L1157.44 1221.88 L1158.83 1217.34 L1160.22 1212.74 L1161.61 1208.09 L1163.01 1203.41 L1164.4 1198.71 L1165.79 1194 L1167.18 1189.3 L1168.57 1184.61 L1169.96 1179.97 L1171.35 1175.37 L1172.75 1170.84 L1174.14 1166.39 L1175.53 1162.04 L1176.92 1157.81 L1178.31 1153.7 L1179.7 1149.74 L1181.1 1145.94 L1182.49 1142.32 L1183.88 1138.89 L1185.27 1135.66 L1186.66 1132.66 L1188.05 1129.88 L1189.44 1127.35 L1190.84 1125.07 L1192.23 1123.05 L1193.62 1121.31 L1195.01 1119.85 L1196.4 1118.67 L1197.79 1117.79 L1199.18 1117.2 L1200.58 1116.91 L1201.97 1116.92 L1203.36 1117.23 L1204.75 1117.83 L1206.14 1118.74 L1207.53 1119.93 L1208.92 1121.41 L1210.32 1123.17 L1211.71 1125.2 L1213.1 1127.5 L1214.49 1130.05 L1215.88 1132.84 L1217.27 1135.86 L1218.67 1139.1 L1220.06 1142.54 L1221.45 1146.18 L1222.84 1149.99 L1224.23 1153.95 L1225.62 1158.07 L1227.01 1162.31 L1228.41 1166.67 L1229.8 1171.12 L1231.19 1175.66 L1232.58 1180.26 L1233.97 1184.91 L1235.36 1189.59 L1236.76 1194.3 L1238.15 1199.01 L1239.54 1203.71 L1240.93 1208.38 L1242.32 1213.03 L1243.71 1217.62 L1245.1 1222.16 L1246.5 1226.63 L1247.89 1231.02 L1249.28 1235.32 L1250.67 1239.53 L1252.06 1243.63 L1253.45 1247.62 L1254.84 1251.5 L1256.24 1255.26 L1257.63 1258.89 L1259.02 1262.39 L1260.41 1265.77 L1261.8 1269.01 L1263.19 1272.12 L1264.59 1275.09 L1265.98 1277.94 L1267.37 1280.64 L1268.76 1283.22 L1270.15 1285.67 L1271.54 1287.99 L1272.93 1290.18 L1274.33 1292.25 L1275.72 1294.2 L1277.11 1296.04 L1278.5 1297.76 L1279.89 1299.38 L1281.28 1300.89 L1282.67 1302.3 L1284.07 1303.61 L1285.46 1304.84 L1286.85 1305.98 L1288.24 1307.03 L1289.63 1308.01 L1291.02 1308.91 L1292.41 1309.74 L1293.81 1310.5 L1295.2 1311.21 L1296.59 1311.85 L1297.98 1312.45 L1299.37 1312.99 L1300.76 1313.48 L1302.16 1313.93 L1303.55 1314.34 L1304.94 1314.71 L1306.33 1315.05 L1307.72 1315.36 L1309.11 1315.63 L1310.5 1315.88 L1311.9 1316.11 L1313.29 1316.31 L1314.68 1316.49 L1316.07 1316.65 L1317.46 1316.8 L1318.85 1316.93 L1320.24 1317.04 L1321.64 1317.15 L1323.03 1317.24 L1324.42 1317.32 L1325.81 1317.39 L1327.2 1317.46 L1328.59 1317.51 L1329.99 1317.56 L1331.38 1317.61 L1332.77 1317.64 L1334.16 1317.68 L1335.55 1317.71 L1336.94 1317.73 L1338.33 1317.76 L1339.73 1317.78 L1341.12 1317.79 L1342.51 1317.81 L1343.9 1317.82 L1345.29 1317.83 L1346.68 1317.84 L1348.08 1317.85 L1349.47 1317.86 L1350.86 1317.86 L1352.25 1317.87 L1353.64 1317.87 L1355.03 1317.88 L1356.42 1317.88 L1357.82 1317.88 L1359.21 1317.89 L1360.6 1317.89 L1361.99 1317.89 L1363.38 1317.89 L1364.77 1317.89 L1366.16 1317.89 L1367.56 1317.9 L1368.95 1317.9 L1370.34 1317.9 L1371.73 1317.9 L1373.12 1317.9 L1374.51 1317.9 L1375.9 1317.9 L1377.3 1317.9 L1378.69 1317.9 L1380.08 1317.9 L1381.47 1317.9 L1382.86 1317.9 L1384.25 1317.9 L1385.65 1317.9 L1387.04 1317.9 L1388.43 1317.9 L1389.82 1317.9 L1391.21 1317.9 L1392.6 1317.9 L1393.99 1317.9 L1395.39 1317.9 L1396.78 1317.9 L1398.17 1317.9 L1399.56 1317.9 L1400.95 1317.9 L1402.34 1317.9 L1403.74 1317.9 L1405.13 1317.9 L1406.52 1317.9 L1407.91 1317.9 L1409.3 1317.9 L1410.69 1317.9 L1412.08 1317.9 L1413.48 1317.9 L1414.87 1317.9 L1416.26 1317.9 L1417.65 1317.9 L1419.04 1317.9 L1420.43 1317.9 L1421.82 1317.9 L1423.22 1317.9 L1424.61 1317.9 L1426 1317.9 L1427.39 1317.9 L1428.78 1317.9 L1430.17 1317.9 L1431.57 1317.9 L1432.96 1317.9 L1434.35 1317.9 L1435.74 1317.9 L1437.13 1317.9 L1438.52 1317.9 L1439.91 1317.9 L1441.31 1317.9 L1442.7 1317.9 L1444.09 1317.9 L1445.48 1317.9 L1446.87 1317.9 L1448.26 1317.9 L1449.65 1317.9 L1451.05 1317.9 L1452.44 1317.9 L1453.83 1317.9 L1455.22 1317.9 L1456.61 1317.9 L1458 1317.9 L1459.39 1317.9 L1460.79 1317.9 L1462.18 1317.9 L1463.57 1317.9 L1464.96 1317.9 L1466.35 1317.9 L1467.74 1317.9 L1469.14 1317.9 L1470.53 1317.9 L1471.92 1317.9 L1473.31 1317.9 L1474.7 1317.9 L1476.09 1317.9 L1477.48 1317.9 L1478.88 1317.9 L1480.27 1317.9 L1481.66 1317.9 L1483.05 1317.9 L1484.44 1317.9 L1485.83 1317.9 L1487.22 1317.9 L1488.62 1317.9 L1490.01 1317.9 L1491.4 1317.9 L1492.79 1317.9 L1494.18 1317.9 L1495.57 1317.9 L1496.97 1317.9 L1498.36 1317.9 L1499.75 1317.9 L1501.14 1317.9 L1502.53 1317.9 L1503.92 1317.9 L1505.31 1317.9 L1506.71 1317.9 L1508.1 1317.9 L1509.49 1317.9 L1510.88 1317.9 L1512.27 1317.9 L1513.66 1317.9 L1515.06 1317.9 L1516.45 1317.9 L1517.84 1317.9 L1519.23 1317.9 L1520.62 1317.9 L1522.01 1317.9 L1523.4 1317.9 L1524.8 1317.9 L1526.19 1317.9 L1527.58 1317.9 L1528.97 1317.9 L1530.36 1317.9 L1531.75 1317.9 L1533.14 1317.9 L1534.54 1317.9 L1535.93 1317.9 L1537.32 1317.9 L1538.71 1317.9 L1540.1 1317.9 L1541.49 1317.9 L1542.88 1317.9 L1544.28 1317.9 L1545.67 1317.9 L1547.06 1317.9 L1548.45 1317.9 L1549.84 1317.9 L1551.23 1317.9 L1552.63 1317.9 L1554.02 1317.9 L1555.41 1317.9 L1556.8 1317.9" fill="none" stroke="#0000ff" stroke-width="6.4" stroke-linejoin="round"/>
<path d="M1000.2 1317.9 L1001.59 1317.9 L1002.98 1317.9 L1004.37 1317.9 L1005.77 1317.9 L1007.16 1317.9 L1008.55 1317.9 L1009.94 1317.9 L1011.33 1317.9 L1012.72 1317.9 L1014.12 1317.9 L1015.51 1317.9 L1016.9 1317.9 L1018.29 1317.9 L1019.68 1317.9 L1021.07 1317.9 L1022.46 1317.9 L1023.86 1317.9 L1025.25 1317.9 L1026.64 1317.9 L1028.03 1317.9 L1029.42 1317.9 L1030.81 1317.9 L1032.2 1317.9 L1033.6 1317.9 L1034.99 1317.9 L1036.38 1317.9 L1037.77 1317.9 L1039.16 1317.9 L1040.55 1317.9 L1041.94 1317.9 L1043.34 1317.9 L1044.73 1317.9 L1046.12 1317.9 L1047.51 1317.9 L1048.9 1317.9 L1050.29 1317.9 L1051.69 1317.9 L1053.08 1317.9 L1054.47 1317.9 L1055.86 1317.9 L1057.25 1317.9 L1058.64 1317.9 L1060.03 1317.9 L1061.43 1317.9 L1062.82 1317.9 L1064.21 1317.9 L1065.6 1317.9 L1066.99 1317.9 L1068.38 1317.9 L1069.78 1317.9 L1071.17 1317.9 L1072.56 1317.9 L1073.95 1317.9 L1075.34 1317.9 L1076.73 1317.9 L1078.12 1317.9 L1079.52 1317.9 L1080.91 1317.9 L1082.3 1317.9 L1083.69 1317.9 L1085.08 1317.9 L1086.47 1317.9 L1087.86 1317.9 L1089.26 1317.9 L1090.65 1317.9 L1092.04 1317.9 L1093.43 1317.9 L1094.82 1317.9 L1096.21 1317.9 L1097.61 1317.9 L1099 1317.9 L1100.39 1317.9 L1101.78 1317.9 L1103.17 1317.9 L1104.56 1317.9 L1105.95 1317.9 L1107.35 1317.9 L1108.74 1317.9 L1110.13 1317.9 L1111.52 1317.9 L1112.91 1317.9 L1114.3 1317.9 L1115.69 1317.9 L1117.09 1317.9 L1118.48 1317.9 L1119.87 1317.89 L1121.26 1317.89 L1122.65 1317.89 L1124.04 1317.89 L1125.43 1317.89 L1126.83 1317.89 L1128.22 1317.88 L1129.61 1317.88 L1131 1317.88 L1132.39 1317.87 L1133.78 1317.87 L1135.18 1317.86 L1136.57 1317.86 L1137.96 1317.85 L1139.35 1317.84 L1140.74 1317.83 L1142.13 1317.82 L1143.52 1317.8 L1144.92 1317.79 L1146.31 1317.77 L1147.7 1317.75 L1149.09 1317.72 L1150.48 1317.69 L1151.87 1317.66 L1153.27 1317.62 L1154.66 1317.58 L1156.05 1317.53 L1157.44 1317.48 L1158.83 1317.42 L1160.22 1317.35 L1161.61 1317.26 L1163.01 1317.17 L1164.4 1317.07 L1165.79 1316.96 L1167.18 1316.83 L1168.57 1316.68 L1169.96 1316.52 L1171.35 1316.33 L1172.75 1316.13 L1174.14 1315.9 L1175.53 1315.64 L1176.92 1315.36 L1178.31 1315.04 L1179.7 1314.69 L1181.1 1314.3 L1182.49 1313.87 L1183.88 1313.4 L1185.27 1312.87 L1186.66 1312.3 L1188.05 1311.67 L1189.44 1310.97 L1190.84 1310.21 L1192.23 1309.38 L1193.62 1308.48 L1195.01 1307.49 L1196.4 1306.42 L1197.79 1305.25 L1199.18 1303.99 L1200.58 1302.62 L1201.97 1301.15 L1203.36 1299.56 L1204.75 1297.85 L1206.14 1296 L1207.53 1294.03 L1208.92 1291.92 L1210.32 1289.66 L1211.71 1287.25 L1213.1 1284.68 L1214.49 1281.95 L1215.88 1279.05 L1217.27 1275.99 L1218.67 1272.74 L1220.06 1269.32 L1221.45 1265.71 L1222.84 1261.92 L1224.23 1257.95 L1225.62 1253.78 L1227.01 1249.43 L1228.41 1244.88 L1229.8 1240.16 L1231.19 1235.24 L1232.58 1230.15 L1233.97 1224.88 L1235.36 1219.43 L1236.76 1213.83 L1238.15 1208.06 L1239.54 1202.15 L1240.93 1196.09 L1242.32 1189.91 L1243.71 1183.62 L1245.1 1177.22 L1246.5 1170.73 L1247.89 1164.17 L1249.28 1157.56 L1250.67 1150.9 L1252.06 1144.23 L1253.45 1137.56 L1254.84 1130.9 L1256.24 1124.29 L1257.63 1117.73 L1259.02 1111.26 L1260.41 1104.89 L1261.8 1098.66 L1263.19 1092.57 L1264.59 1086.65 L1265.98 1080.92 L1267.37 1075.41 L1268.76 1070.14 L1270.15 1065.13 L1271.54 1060.39 L1272.93 1055.96 L1274.33 1051.83 L1275.72 1048.05 L1277.11 1044.61 L1278.5 1041.53 L1279.89 1038.83 L1281.28 1036.52 L1282.67 1034.6 L1284.07 1033.1 L1285.46 1032.01 L1286.85 1031.33 L1288.24 1031.08 L1289.63 1031.25 L1291.02 1031.84 L1292.41 1032.85 L1293.81 1034.27 L1295.2 1036.11 L1296.59 1038.34 L1297.98 1040.96 L1299.37 1043.97 L1300.76 1047.34 L1302.16 1051.06 L1303.55 1055.12 L1304.94 1059.49 L1306.33 1064.17 L1307.72 1069.13 L1309.11 1074.35 L1310.5 1079.82 L1311.9 1085.5 L1313.29 1091.38 L1314.68 1097.44 L1316.07 1103.65 L1317.46 1109.99 L1318.85 1116.45 L1320.24 1122.99 L1321.64 1129.59 L1323.03 1136.24 L1324.42 1142.91 L1325.81 1149.59 L1327.2 1156.25 L1328.59 1162.87 L1329.99 1169.44 L1331.38 1175.94 L1332.77 1182.36 L1334.16 1188.68 L1335.55 1194.88 L1336.94 1200.96 L1338.33 1206.9 L1339.73 1212.7 L1341.12 1218.34 L1342.51 1223.81 L1343.9 1229.12 L1345.29 1234.25 L1346.68 1239.2 L1348.08 1243.96 L1349.47 1248.54 L1350.86 1252.93 L1352.25 1257.14 L1353.64 1261.15 L1355.03 1264.98 L1356.42 1268.62 L1357.82 1272.08 L1359.21 1275.36 L1360.6 1278.46 L1361.99 1281.39 L1363.38 1284.15 L1364.77 1286.75 L1366.16 1289.19 L1367.56 1291.48 L1368.95 1293.62 L1370.34 1295.63 L1371.73 1297.49 L1373.12 1299.23 L1374.51 1300.84 L1375.9 1302.34 L1377.3 1303.73 L1378.69 1305.01 L1380.08 1306.2 L1381.47 1307.29 L1382.86 1308.29 L1384.25 1309.21 L1385.65 1310.06 L1387.04 1310.83 L1388.43 1311.53 L1389.82 1312.18 L1391.21 1312.76 L1392.6 1313.3 L1393.99 1313.78 L1395.39 1314.22 L1396.78 1314.62 L1398.17 1314.97 L1399.56 1315.3 L1400.95 1315.59 L1402.34 1315.85 L1403.74 1316.08 L1405.13 1316.29 L1406.52 1316.48 L1407.91 1316.65 L1409.3 1316.8 L1410.69 1316.93 L1412.08 1317.05 L1413.48 1317.15 L1414.87 1317.25 L1416.26 1317.33 L1417.65 1317.4 L1419.04 1317.47 L1420.43 1317.52 L1421.82 1317.57 L1423.22 1317.62 L1424.61 1317.65 L1426 1317.69 L1427.39 1317.72 L1428.78 1317.74 L1430.17 1317.76 L1431.57 1317.78 L1432.96 1317.8 L1434.35 1317.81 L1435.74 1317.83 L1437.13 1317.84 L1438.52 1317.85 L1439.91 1317.85 L1441.31 1317.86 L1442.7 1317.87 L1444.09 1317.87 L1445.48 1317.88 L1446.87 1317.88 L1448.26 1317.88 L1449.65 1317.89 L1451.05 1317.89 L1452.44 1317.89 L1453.83 1317.89 L1455.22 1317.89 L1456.61 1317.89 L1458 1317.89 L1459.39 1317.9 L1460.79 1317.9 L1462.18 1317.9 L1463.57 1317.9 L1464.96 1317.9 L1466.35 1317.9 L1467.74 1317.9 L1469.14 1317.9 L1470.53 1317.9 L1471.92 1317.9 L1473.31 1317.9 L1474.7 1317.9 L1476.09 1317.9 L1477.48 1317.9 L1478.88 1317.9 L1480.27 1317.9 L1481.66 1317.9 L1483.05 1317.9 L1484.44 1317.9 L1485.83 1317.9 L1487.22 1317.9 L1488.62 1317.9 L1490.01 1317.9 L1491.4 1317.9 L1492.79 1317.9 L1494.18 1317.9 L1495.57 1317.9 L1496.97 1317.9 L1498.36 1317.9 L1499.75 1317.9 L1501.14 1317.9 L1502.53 1317.9 L1503.92 1317.9 L1505.31 1317.9 L1506.71 1317.9 L1508.1 1317.9 L1509.49 1317.9 L1510.88 1317.9 L1512.27 1317.9 L1513.66 1317.9 L1515.06 1317.9 L1516.45 1317.9 L1517.84 1317.9 L1519.23 1317.9 L1520.62 1317.9 L1522.01 1317.9 L1523.4 1317.9 L1524.8 1317.9 L1526.19 1317.9 L1527.58 1317.9 L1528.97 1317.9 L1530.36 1317.9 L1531.75 1317.9 L1533.14 1317.9 L1534.54 1317.9 L1535.93 1317.9 L1537.32 1317.9 L1538.71 1317.9 L1540.1 1317.9 L1541.49 1317.9 L1542.88 1317.9 L1544.28 1317.9 L1545.67 1317.9 L1547.06 1317.9 L1548.45 1317.9 L1549.84 1317.9 L1551.23 1317.9 L1552.63 1317.9 L1554.02 1317.9 L1555.41 1317.9 L1556.8 1317.9" fill="none" stroke="#007f00" stroke-width="6.2" stroke-linejoin="round" stroke-dasharray="49.5 12.5 8.5 12.5" stroke-dashoffset="7.08"/>
<path d="M1000.2 1317.9 L1001.59 1317.9 L1002.98 1317.9 L1004.37 1317.9 L1005.77 1317.9 L1007.16 1317.9 L1008.55 1317.9 L1009.94 1317.9 L1011.33 1317.9 L1012.72 1317.9 L1014.12 1317.9 L1015.51 1317.9 L1016.9 1317.9 L1018.29 1317.9 L1019.68 1317.9 L1021.07 1317.9 L1022.46 1317.9 L1023.86 1317.9 L1025.25 1317.9 L1026.64 1317.9 L1028.03 1317.9 L1029.42 1317.9 L1030.81 1317.9 L1032.2 1317.9 L1033.6 1317.9 L1034.99 1317.9 L1036.38 1317.9 L1037.77 1317.9 L1039.16 1317.9 L1040.55 1317.9 L1041.94 1317.9 L1043.34 1317.9 L1044.73 1317.9 L1046.12 1317.9 L1047.51 1317.9 L1048.9 1317.9 L1050.29 1317.9 L1051.69 1317.9 L1053.08 1317.9 L1054.47 1317.9 L1055.86 1317.9 L1057.25 1317.9 L1058.64 1317.9 L1060.03 1317.9 L1061.43 1317.9 L1062.82 1317.9 L1064.21 1317.9 L1065.6 1317.9 L1066.99 1317.9 L1068.38 1317.9 L1069.78 1317.9 L1071.17 1317.9 L1072.56 1317.9 L1073.95 1317.9 L1075.34 1317.9 L1076.73 1317.9 L1078.12 1317.9 L1079.52 1317.9 L1080.91 1317.9 L1082.3 1317.9 L1083.69 1317.9 L1085.08 1317.9 L1086.47 1317.9 L1087.86 1317.9 L1089.26 1317.9 L1090.65 1317.9 L1092.04 1317.9 L1093.43 1317.9 L1094.82 1317.9 L1096.21 1317.9 L1097.61 1317.9 L1099 1317.9 L1100.39 1317.9 L1101.78 1317.9 L1103.17 1317.9 L1104.56 1317.9 L1105.95 1317.9 L1107.35 1317.9 L1108.74 1317.9 L1110.13 1317.9 L1111.52 1317.9 L1112.91 1317.9 L1114.3 1317.9 L1115.69 1317.9 L1117.09 1317.9 L1118.48 1317.89 L1119.87 1317.89 L1121.26 1317.89 L1122.65 1317.89 L1124.04 1317.89 L1125.43 1317.89 L1126.83 1317.89 L1128.22 1317.89 L1129.61 1317.89 L1131 1317.88 L1132.39 1317.88 L1133.78 1317.88 L1135.18 1317.88 L1136.57 1317.88 L1137.96 1317.87 L1139.35 1317.87 L1140.74 1317.87 L1142.13 1317.86 L1143.52 1317.86 L1144.92 1317.86 L1146.31 1317.85 L1147.7 1317.84 L1149.09 1317.84 L1150.48 1317.83 L1151.87 1317.83 L1153.27 1317.82 L1154.66 1317.81 L1156.05 1317.8 L1157.44 1317.79 L1158.83 1317.78 L1160.22 1317.76 L1161.61 1317.75 L1163.01 1317.74 L1164.4 1317.72 L1165.79 1317.7 L1167.18 1317.68 L1168.57 1317.66 L1169.96 1317.64 L1171.35 1317.61 L1172.75 1317.59 L1174.14 1317.56 L1175.53 1317.53 L1176.92 1317.49 L1178.31 1317.45 L1179.7 1317.41 L1181.1 1317.37 L1182.49 1317.32 L1183.88 1317.27 L1185.27 1317.21 L1186.66 1317.15 L1188.05 1317.09 L1189.44 1317.02 L1190.84 1316.94 L1192.23 1316.86 L1193.62 1316.78 L1195.01 1316.68 L1196.4 1316.58 L1197.79 1316.48 L1199.18 1316.36 L1200.58 1316.24 L1201.97 1316.11 L1203.36 1315.97 L1204.75 1315.81 L1206.14 1315.65 L1207.53 1315.48 L1208.92 1315.3 L1210.32 1315.1 L1211.71 1314.9 L1213.1 1314.68 L1214.49 1314.44 L1215.88 1314.19 L1217.27 1313.93 L1218.67 1313.65 L1220.06 1313.35 L1221.45 1313.03 L1222.84 1312.7 L1224.23 1312.35 L1225.62 1311.98 L1227.01 1311.58 L1228.41 1311.17 L1229.8 1310.73 L1231.19 1310.27 L1232.58 1309.79 L1233.97 1309.28 L1235.36 1308.75 L1236.76 1308.19 L1238.15 1307.6 L1239.54 1306.98 L1240.93 1306.34 L1242.32 1305.66 L1243.71 1304.96 L1245.1 1304.22 L1246.5 1303.45 L1247.89 1302.65 L1249.28 1301.82 L1250.67 1300.95 L1252.06 1300.04 L1253.45 1299.1 L1254.84 1298.13 L1256.24 1297.11 L1257.63 1296.06 L1259.02 1294.98 L1260.41 1293.85 L1261.8 1292.69 L1263.19 1291.49 L1264.59 1290.25 L1265.98 1288.97 L1267.37 1287.65 L1268.76 1286.29 L1270.15 1284.9 L1271.54 1283.47 L1272.93 1282 L1274.33 1280.49 L1275.72 1278.94 L1277.11 1277.36 L1278.5 1275.75 L1279.89 1274.09 L1281.28 1272.41 L1282.67 1270.69 L1284.07 1268.94 L1285.46 1267.16 L1286.85 1265.35 L1288.24 1263.51 L1289.63 1261.65 L1291.02 1259.76 L1292.41 1257.85 L1293.81 1255.92 L1295.2 1253.97 L1296.59 1252.01 L1297.98 1250.03 L1299.37 1248.03 L1300.76 1246.03 L1302.16 1244.02 L1303.55 1242.01 L1304.94 1239.99 L1306.33 1237.97 L1307.72 1235.96 L1309.11 1233.95 L1310.5 1231.95 L1311.9 1229.97 L1313.29 1228 L1314.68 1226.05 L1316.07 1224.11 L1317.46 1222.21 L1318.85 1220.33 L1320.24 1218.48 L1321.64 1216.66 L1323.03 1214.88 L1324.42 1213.14 L1325.81 1211.44 L1327.2 1209.79 L1328.59 1208.19 L1329.99 1206.64 L1331.38 1205.14 L1332.77 1203.7 L1334.16 1202.31 L1335.55 1200.99 L1336.94 1199.74 L1338.33 1198.54 L1339.73 1197.42 L1341.12 1196.36 L1342.51 1195.38 L1343.9 1194.47 L1345.29 1193.63 L1346.68 1192.87 L1348.08 1192.18 L1349.47 1191.57 L1350.86 1191.03 L1352.25 1190.57 L1353.64 1190.19 L1355.03 1189.88 L1356.42 1189.65 L1357.82 1189.5 L1359.21 1189.41 L1360.6 1189.41 L1361.99 1189.47 L1363.38 1189.61 L1364.77 1189.82 L1366.16 1190.1 L1367.56 1190.44 L1368.95 1190.86 L1370.34 1191.35 L1371.73 1191.9 L1373.12 1192.53 L1374.51 1193.22 L1375.9 1193.98 L1377.3 1194.81 L1378.69 1195.71 L1380.08 1196.68 L1381.47 1197.72 L1382.86 1198.83 L1384.25 1200.01 L1385.65 1201.27 L1387.04 1202.6 L1388.43 1204.01 L1389.82 1205.48 L1391.21 1207.03 L1392.6 1208.66 L1393.99 1210.35 L1395.39 1212.11 L1396.78 1213.94 L1398.17 1215.83 L1399.56 1217.78 L1400.95 1219.79 L1402.34 1221.84 L1403.74 1223.95 L1405.13 1226.09 L1406.52 1228.27 L1407.91 1230.48 L1409.3 1232.72 L1410.69 1234.97 L1412.08 1237.23 L1413.48 1239.5 L1414.87 1241.77 L1416.26 1244.03 L1417.65 1246.28 L1419.04 1248.51 L1420.43 1250.73 L1421.82 1252.91 L1423.22 1255.07 L1424.61 1257.2 L1426 1259.29 L1427.39 1261.35 L1428.78 1263.37 L1430.17 1265.34 L1431.57 1267.28 L1432.96 1269.17 L1434.35 1271.01 L1435.74 1272.81 L1437.13 1274.57 L1438.52 1276.28 L1439.91 1277.94 L1441.31 1279.56 L1442.7 1281.13 L1444.09 1282.66 L1445.48 1284.15 L1446.87 1285.59 L1448.26 1286.99 L1449.65 1288.34 L1451.05 1289.66 L1452.44 1290.93 L1453.83 1292.16 L1455.22 1293.35 L1456.61 1294.49 L1458 1295.6 L1459.39 1296.67 L1460.79 1297.71 L1462.18 1298.7 L1463.57 1299.66 L1464.96 1300.58 L1466.35 1301.46 L1467.74 1302.31 L1469.14 1303.13 L1470.53 1303.91 L1471.92 1304.66 L1473.31 1305.38 L1474.7 1306.07 L1476.09 1306.73 L1477.48 1307.35 L1478.88 1307.95 L1480.27 1308.52 L1481.66 1309.07 L1483.05 1309.59 L1484.44 1310.08 L1485.83 1310.55 L1487.22 1311 L1488.62 1311.42 L1490.01 1311.82 L1491.4 1312.2 L1492.79 1312.56 L1494.18 1312.9 L1495.57 1313.22 L1496.97 1313.53 L1498.36 1313.81 L1499.75 1314.09 L1501.14 1314.34 L1502.53 1314.58 L1503.92 1314.81 L1505.31 1315.02 L1506.71 1315.22 L1508.1 1315.41 L1509.49 1315.59 L1510.88 1315.75 L1512.27 1315.91 L1513.66 1316.05 L1515.06 1316.19 L1516.45 1316.31 L1517.84 1316.43 L1519.23 1316.54 L1520.62 1316.64 L1522.01 1316.74 L1523.4 1316.83 L1524.8 1316.91 L1526.19 1316.99 L1527.58 1317.06 L1528.97 1317.13 L1530.36 1317.19 L1531.75 1317.25 L1533.14 1317.3 L1534.54 1317.35 L1535.93 1317.4 L1537.32 1317.44 L1538.71 1317.48 L1540.1 1317.51 L1541.49 1317.55 L1542.88 1317.58 L1544.28 1317.6 L1545.67 1317.63 L1547.06 1317.65 L1548.45 1317.67 L1549.84 1317.69 L1551.23 1317.71 L1552.63 1317.73 L1554.02 1317.75 L1555.41 1317.76 L1556.8 1317.77" fill="none" stroke="#850085" stroke-width="6.2" stroke-linejoin="round" stroke-dasharray="22 7.3 8 7.3 8 7.3" stroke-dashoffset="4.76"/>
<path d="M1000.2 1313.21 L1001.59 1312.7 L1002.98 1312.14 L1004.37 1311.53 L1005.77 1310.87 L1007.16 1310.15 L1008.55 1309.37 L1009.94 1308.52 L1011.33 1307.62 L1012.72 1306.64 L1014.12 1305.6 L1015.51 1304.5 L1016.9 1303.32 L1018.29 1302.08 L1019.68 1300.77 L1021.07 1299.39 L1022.46 1297.96 L1023.86 1296.46 L1025.25 1294.9 L1026.64 1293.29 L1028.03 1291.62 L1029.42 1289.91 L1030.81 1288.16 L1032.2 1286.37 L1033.6 1284.55 L1034.99 1282.69 L1036.38 1280.81 L1037.77 1278.9 L1039.16 1276.98 L1040.55 1275.04 L1041.94 1273.08 L1043.34 1271.11 L1044.73 1269.13 L1046.12 1267.14 L1047.51 1265.14 L1048.9 1263.13 L1050.29 1261.11 L1051.69 1259.09 L1053.08 1257.07 L1054.47 1255.04 L1055.86 1253.01 L1057.25 1250.98 L1058.64 1248.96 L1060.03 1246.94 L1061.43 1244.93 L1062.82 1242.94 L1064.21 1240.97 L1065.6 1239.02 L1066.99 1237.1 L1068.38 1235.23 L1069.78 1233.39 L1071.17 1231.61 L1072.56 1229.89 L1073.95 1228.24 L1075.34 1226.66 L1076.73 1225.16 L1078.12 1223.75 L1079.52 1222.43 L1080.91 1221.21 L1082.3 1220.1 L1083.69 1219.1 L1085.08 1218.21 L1086.47 1217.45 L1087.86 1216.8 L1089.26 1216.27 L1090.65 1215.87 L1092.04 1215.59 L1093.43 1215.43 L1094.82 1215.38 L1096.21 1215.46 L1097.61 1215.64 L1099 1215.93 L1100.39 1216.31 L1101.78 1216.79 L1103.17 1217.35 L1104.56 1217.98 L1105.95 1218.68 L1107.35 1219.43 L1108.74 1220.21 L1110.13 1221.02 L1111.52 1221.85 L1112.91 1222.67 L1114.3 1223.48 L1115.69 1224.26 L1117.09 1225 L1118.48 1225.67 L1119.87 1226.27 L1121.26 1226.79 L1122.65 1227.21 L1124.04 1227.51 L1125.43 1227.7 L1126.83 1227.75 L1128.22 1227.66 L1129.61 1227.43 L1131 1227.05 L1132.39 1226.51 L1133.78 1225.82 L1135.18 1224.98 L1136.57 1223.98 L1137.96 1222.83 L1139.35 1221.53 L1140.74 1220.08 L1142.13 1218.5 L1143.52 1216.77 L1144.92 1214.91 L1146.31 1212.92 L1147.7 1210.8 L1149.09 1208.55 L1150.48 1206.17 L1151.87 1203.67 L1153.27 1201.04 L1154.66 1198.28 L1156.05 1195.39 L1157.44 1192.38 L1158.83 1189.25 L1160.22 1186 L1161.61 1182.63 L1163.01 1179.15 L1164.4 1175.58 L1165.79 1171.91 L1167.18 1168.17 L1168.57 1164.36 L1169.96 1160.51 L1171.35 1156.63 L1172.75 1152.73 L1174.14 1148.84 L1175.53 1144.96 L1176.92 1141.13 L1178.31 1137.34 L1179.7 1133.63 L1181.1 1129.99 L1182.49 1126.44 L1183.88 1122.98 L1185.27 1119.62 L1186.66 1116.37 L1188.05 1113.23 L1189.44 1110.19 L1190.84 1107.27 L1192.23 1104.46 L1193.62 1101.77 L1195.01 1099.2 L1196.4 1096.76 L1197.79 1094.44 L1199.18 1092.27 L1200.58 1090.25 L1201.97 1088.38 L1203.36 1086.68 L1204.75 1085.15 L1206.14 1083.8 L1207.53 1082.62 L1208.92 1081.61 L1210.32 1080.77 L1211.71 1080.07 L1213.1 1079.51 L1214.49 1079.06 L1215.88 1078.69 L1217.27 1078.38 L1218.67 1078.11 L1220.06 1077.83 L1221.45 1077.53 L1222.84 1077.19 L1224.23 1076.77 L1225.62 1076.27 L1227.01 1075.66 L1228.41 1074.93 L1229.8 1074.08 L1231.19 1073.1 L1232.58 1071.98 L1233.97 1070.72 L1235.36 1069.31 L1236.76 1067.76 L1238.15 1066.06 L1239.54 1064.19 L1240.93 1062.17 L1242.32 1059.99 L1243.71 1057.64 L1245.1 1055.12 L1246.5 1052.43 L1247.89 1049.57 L1249.28 1046.55 L1250.67 1043.38 L1252.06 1040.06 L1253.45 1036.61 L1254.84 1033.05 L1256.24 1029.4 L1257.63 1025.69 L1259.02 1021.93 L1260.41 1018.16 L1261.8 1014.41 L1263.19 1010.69 L1264.59 1007.04 L1265.98 1003.47 L1267.37 1000 L1268.76 996.65 L1270.15 993.42 L1271.54 990.34 L1272.93 987.41 L1274.33 984.64 L1275.72 982.04 L1277.11 979.61 L1278.5 977.35 L1279.89 975.29 L1281.28 973.41 L1282.67 971.74 L1284.07 970.29 L1285.46 969.05 L1286.85 968.05 L1288.24 967.28 L1289.63 966.77 L1291.02 966.51 L1292.41 966.51 L1293.81 966.78 L1295.2 967.32 L1296.59 968.14 L1297.98 969.23 L1299.37 970.6 L1300.76 972.23 L1302.16 974.13 L1303.55 976.3 L1304.94 978.71 L1306.33 981.38 L1307.72 984.27 L1309.11 987.39 L1310.5 990.72 L1311.9 994.25 L1313.29 997.97 L1314.68 1001.85 L1316.07 1005.9 L1317.46 1010.08 L1318.85 1014.39 L1320.24 1018.82 L1321.64 1023.34 L1323.03 1027.95 L1324.42 1032.63 L1325.81 1037.37 L1327.2 1042.15 L1328.59 1046.97 L1329.99 1051.8 L1331.38 1056.65 L1332.77 1061.49 L1334.16 1066.33 L1335.55 1071.14 L1336.94 1075.92 L1338.33 1080.66 L1339.73 1085.34 L1341.12 1089.97 L1342.51 1094.53 L1343.9 1099.01 L1345.29 1103.41 L1346.68 1107.72 L1348.08 1111.94 L1349.47 1116.05 L1350.86 1120.05 L1352.25 1123.95 L1353.64 1127.74 L1355.03 1131.42 L1356.42 1134.98 L1357.82 1138.43 L1359.21 1141.77 L1360.6 1145.01 L1361.99 1148.14 L1363.38 1151.17 L1364.77 1154.11 L1366.16 1156.96 L1367.56 1159.73 L1368.95 1162.42 L1370.34 1165.04 L1371.73 1167.6 L1373.12 1170.1 L1374.51 1172.55 L1375.9 1174.96 L1377.3 1177.33 L1378.69 1179.67 L1380.08 1181.99 L1381.47 1184.29 L1382.86 1186.58 L1384.25 1188.86 L1385.65 1191.13 L1387.04 1193.41 L1388.43 1195.69 L1389.82 1197.97 L1391.21 1200.27 L1392.6 1202.58 L1393.99 1204.91 L1395.39 1207.25 L1396.78 1209.6 L1398.17 1211.97 L1399.56 1214.36 L1400.95 1216.76 L1402.34 1219.17 L1403.74 1221.6 L1405.13 1224.03 L1406.52 1226.47 L1407.91 1228.9 L1409.3 1231.34 L1410.69 1233.77 L1412.08 1236.19 L1413.48 1238.59 L1414.87 1240.98 L1416.26 1243.35 L1417.65 1245.69 L1419.04 1248.01 L1420.43 1250.29 L1421.82 1252.54 L1423.22 1254.75 L1424.61 1256.93 L1426 1259.06 L1427.39 1261.15 L1428.78 1263.2 L1430.17 1265.2 L1431.57 1267.15 L1432.96 1269.06 L1434.35 1270.92 L1435.74 1272.73 L1437.13 1274.5 L1438.52 1276.22 L1439.91 1277.89 L1441.31 1279.52 L1442.7 1281.1 L1444.09 1282.63 L1445.48 1284.12 L1446.87 1285.57 L1448.26 1286.97 L1449.65 1288.33 L1451.05 1289.64 L1452.44 1290.92 L1453.83 1292.15 L1455.22 1293.34 L1456.61 1294.49 L1458 1295.6 L1459.39 1296.67 L1460.79 1297.7 L1462.18 1298.7 L1463.57 1299.65 L1464.96 1300.58 L1466.35 1301.46 L1467.74 1302.31 L1469.14 1303.13 L1470.53 1303.91 L1471.92 1304.66 L1473.31 1305.38 L1474.7 1306.07 L1476.09 1306.72 L1477.48 1307.35 L1478.88 1307.95 L1480.27 1308.52 L1481.66 1309.07 L1483.05 1309.59 L1484.44 1310.08 L1485.83 1310.55 L1487.22 1311 L1488.62 1311.42 L1490.01 1311.82 L1491.4 1312.2 L1492.79 1312.56 L1494.18 1312.9 L1495.57 1313.22 L1496.97 1313.53 L1498.36 1313.81 L1499.75 1314.09 L1501.14 1314.34 L1502.53 1314.58 L1503.92 1314.81 L1505.31 1315.02 L1506.71 1315.22 L1508.1 1315.41 L1509.49 1315.59 L1510.88 1315.75 L1512.27 1315.91 L1513.66 1316.05 L1515.06 1316.19 L1516.45 1316.31 L1517.84 1316.43 L1519.23 1316.54 L1520.62 1316.64 L1522.01 1316.74 L1523.4 1316.83 L1524.8 1316.91 L1526.19 1316.99 L1527.58 1317.06 L1528.97 1317.13 L1530.36 1317.19 L1531.75 1317.25 L1533.14 1317.3 L1534.54 1317.35 L1535.93 1317.4 L1537.32 1317.44 L1538.71 1317.48 L1540.1 1317.51 L1541.49 1317.55 L1542.88 1317.58 L1544.28 1317.6 L1545.67 1317.63 L1547.06 1317.65 L1548.45 1317.67 L1549.84 1317.69 L1551.23 1317.71 L1552.63 1317.73 L1554.02 1317.75 L1555.41 1317.76 L1556.8 1317.77" fill="none" stroke="#ff0a3c" stroke-width="9.2" stroke-linejoin="round"/>
</g>
<rect x="1000.2" y="816.9" width="556.55" height="501" fill="none" stroke="#000" stroke-width="5"/>
<line x1="987.7" y1="1317.9" x2="1000.2" y2="1317.9" stroke="#000" stroke-width="4.5"/>
<text transform="translate(976.2,1333.7) scale(0.83,1)" font-family="'DejaVu Sans','Liberation Sans',sans-serif" font-size="39" text-anchor="end" fill="#ff0000">0.00</text>
<line x1="992.2" y1="1286.59" x2="1000.2" y2="1286.59" stroke="#000" stroke-width="3.5"/>
<line x1="987.7" y1="1255.28" x2="1000.2" y2="1255.28" stroke="#000" stroke-width="4.5"/>
<text transform="translate(976.2,1271.08) scale(0.83,1)" font-family="'DejaVu Sans','Liberation Sans',sans-serif" font-size="39" text-anchor="end" fill="#ff0000">0.01</text>
<line x1="992.2" y1="1223.96" x2="1000.2" y2="1223.96" stroke="#000" stroke-width="3.5"/>
<line x1="987.7" y1="1192.65" x2="1000.2" y2="1192.65" stroke="#000" stroke-width="4.5"/>
<text transform="translate(976.2,1208.45) scale(0.83,1)" font-family="'DejaVu Sans','Liberation Sans',sans-serif" font-size="39" text-anchor="end" fill="#ff0000">0.02</text>
<line x1="992.2" y1="1161.34" x2="1000.2" y2="1161.34" stroke="#000" stroke-width="3.5"/>
<line x1="987.7" y1="1130.03" x2="1000.2" y2="1130.03" stroke="#000" stroke-width="4.5"/>
<text transform="translate(976.2,1145.83) scale(0.83,1)" font-family="'DejaVu Sans','Liberation Sans',sans-serif" font-size="39" text-anchor="end" fill="#ff0000">0.03</text>
<line x1="992.2" y1="1098.71" x2="1000.2" y2="1098.71" stroke="#000" stroke-width="3.5"/>
<line x1="987.7" y1="1067.4" x2="1000.2" y2="1067.4" stroke="#000" stroke-width="4.5"/>
<text transform="translate(976.2,1083.2) scale(0.83,1)" font-family="'DejaVu Sans','Liberation Sans',sans-serif" font-size="39" text-anchor="end" fill="#ff0000">0.04</text>
<line x1="992.2" y1="1036.09" x2="1000.2" y2="1036.09" stroke="#000" stroke-width="3.5"/>
<line x1="987.7" y1="1004.77" x2="1000.2" y2="1004.77" stroke="#000" stroke-width="4.5"/>
<text transform="translate(976.2,1020.57) scale(0.83,1)" font-family="'DejaVu Sans','Liberation Sans',sans-serif" font-size="39" text-anchor="end" fill="#ff0000">0.05</text>
<line x1="992.2" y1="973.46" x2="1000.2" y2="973.46" stroke="#000" stroke-width="3.5"/>
<line x1="987.7" y1="942.15" x2="1000.2" y2="942.15" stroke="#000" stroke-width="4.5"/>
<text transform="translate(976.2,957.95) scale(0.83,1)" font-family="'DejaVu Sans','Liberation Sans',sans-serif" font-size="39" text-anchor="end" fill="#ff0000">0.06</text>
<line x1="992.2" y1="910.84" x2="1000.2" y2="910.84" stroke="#000" stroke-width="3.5"/>
<line x1="987.7" y1="879.52" x2="1000.2" y2="879.52" stroke="#000" stroke-width="4.5"/>
<text transform="translate(976.2,895.32) scale(0.83,1)" font-family="'DejaVu Sans','Liberation Sans',sans-serif" font-size="39" text-anchor="end" fill="#ff0000">0.07</text>
<line x1="992.2" y1="848.21" x2="1000.2" y2="848.21" stroke="#000" stroke-width="3.5"/>
<line x1="987.7" y1="816.9" x2="1000.2" y2="816.9" stroke="#000" stroke-width="4.5"/>
<text transform="translate(976.2,832.7) scale(0.83,1)" font-family="'DejaVu Sans','Liberation Sans',sans-serif" font-size="39" text-anchor="end" fill="#ff0000">0.08</text>
<line x1="1556.75" y1="1317.9" x2="1569.25" y2="1317.9" stroke="#000" stroke-width="4.5"/>
<text transform="translate(1579.25,1333.5) scale(0.84,1)" font-family="'DejaVu Sans','Liberation Sans',sans-serif" font-size="39" text-anchor="start" fill="#1212ff">0</text>
<line x1="1556.75" y1="1276.15" x2="1564.75" y2="1276.15" stroke="#000" stroke-width="3.5"/>
<line x1="1556.75" y1="1234.4" x2="1569.25" y2="1234.4" stroke="#000" stroke-width="4.5"/>
<text transform="translate(1579.25,1250) scale(0.84,1)" font-family="'DejaVu Sans','Liberation Sans',sans-serif" font-size="39" text-anchor="start" fill="#1212ff">200</text>
<line x1="1556.75" y1="1192.65" x2="1564.75" y2="1192.65" stroke="#000" stroke-width="3.5"/>
<line x1="1556.75" y1="1150.9" x2="1569.25" y2="1150.9" stroke="#000" stroke-width="4.5"/>
<text transform="translate(1579.25,1166.5) scale(0.84,1)" font-family="'DejaVu Sans','Liberation Sans',sans-serif" font-size="39" text-anchor="start" fill="#1212ff">400</text>
<line x1="1556.75" y1="1109.15" x2="1564.75" y2="1109.15" stroke="#000" stroke-width="3.5"/>
<line x1="1556.75" y1="1067.4" x2="1569.25" y2="1067.4" stroke="#000" stroke-width="4.5"/>
<text transform="translate(1579.25,1083) scale(0.84,1)" font-family="'DejaVu Sans','Liberation Sans',sans-serif" font-size="39" text-anchor="start" fill="#1212ff">600</text>
<line x1="1556.75" y1="1025.65" x2="1564.75" y2="1025.65" stroke="#000" stroke-width="3.5"/>
<line x1="1556.75" y1="983.9" x2="1569.25" y2="983.9" stroke="#000" stroke-width="4.5"/>
<text transform="translate(1579.25,999.5) scale(0.84,1)" font-family="'DejaVu Sans','Liberation Sans',sans-serif" font-size="39" text-anchor="start" fill="#1212ff">800</text>
<line x1="1556.75" y1="942.15" x2="1564.75" y2="942.15" stroke="#000" stroke-width="3.5"/>
<line x1="1556.75" y1="900.4" x2="1569.25" y2="900.4" stroke="#000" stroke-width="4.5"/>
<text transform="translate(1579.25,916) scale(0.84,1)" font-family="'DejaVu Sans','Liberation Sans',sans-serif" font-size="39" text-anchor="start" fill="#1212ff">1000</text>
<line x1="1556.75" y1="858.65" x2="1564.75" y2="858.65" stroke="#000" stroke-width="3.5"/>
<line x1="1556.75" y1="816.9" x2="1569.25" y2="816.9" stroke="#000" stroke-width="4.5"/>
<text transform="translate(1579.25,832.5) scale(0.84,1)" font-family="'DejaVu Sans','Liberation Sans',sans-serif" font-size="39" text-anchor="start" fill="#1212ff">1200</text>
<line x1="1022.28" y1="1317.9" x2="1022.28" y2="1325.4" stroke="#000" stroke-width="3.5"/>
<line x1="1045.52" y1="1317.9" x2="1045.52" y2="1325.4" stroke="#000" stroke-width="3.5"/>
<line x1="1068.76" y1="1317.9" x2="1068.76" y2="1325.4" stroke="#000" stroke-width="3.5"/>
<line x1="1092" y1="1317.9" x2="1092" y2="1330.9" stroke="#000" stroke-width="4.5"/>
<text transform="translate(1092,1373) scale(0.88,1)" font-family="'DejaVu Sans','Liberation Sans',sans-serif" font-size="38" text-anchor="middle" fill="#000">10</text>
<line x1="1115.24" y1="1317.9" x2="1115.24" y2="1325.4" stroke="#000" stroke-width="3.5"/>
<line x1="1138.48" y1="1317.9" x2="1138.48" y2="1325.4" stroke="#000" stroke-width="3.5"/>
<line x1="1161.72" y1="1317.9" x2="1161.72" y2="1325.4" stroke="#000" stroke-width="3.5"/>
<line x1="1184.96" y1="1317.9" x2="1184.96" y2="1325.4" stroke="#000" stroke-width="3.5"/>
<line x1="1208.2" y1="1317.9" x2="1208.2" y2="1330.9" stroke="#000" stroke-width="4.5"/>
<text transform="translate(1208.2,1373) scale(0.88,1)" font-family="'DejaVu Sans','Liberation Sans',sans-serif" font-size="38" text-anchor="middle" fill="#000">20</text>
<line x1="1231.44" y1="1317.9" x2="1231.44" y2="1325.4" stroke="#000" stroke-width="3.5"/>
<line x1="1254.68" y1="1317.9" x2="1254.68" y2="1325.4" stroke="#000" stroke-width="3.5"/>
<line x1="1277.92" y1="1317.9" x2="1277.92" y2="1325.4" stroke="#000" stroke-width="3.5"/>
<line x1="1301.16" y1="1317.9" x2="1301.16" y2="1325.4" stroke="#000" stroke-width="3.5"/>
<line x1="1324.4" y1="1317.9" x2="1324.4" y2="1330.9" stroke="#000" stroke-width="4.5"/>
<text transform="translate(1324.4,1373) scale(0.88,1)" font-family="'DejaVu Sans','Liberation Sans',sans-serif" font-size="38" text-anchor="middle" fill="#000">30</text>
<line x1="1347.64" y1="1317.9" x2="1347.64" y2="1325.4" stroke="#000" stroke-width="3.5"/>
<line x1="1370.88" y1="1317.9" x2="1370.88" y2="1325.4" stroke="#000" stroke-width="3.5"/>
<line x1="1394.12" y1="1317.9" x2="1394.12" y2="1325.4" stroke="#000" stroke-width="3.5"/>
<line x1="1417.36" y1="1317.9" x2="1417.36" y2="1325.4" stroke="#000" stroke-width="3.5"/>
<line x1="1440.6" y1="1317.9" x2="1440.6" y2="1330.9" stroke="#000" stroke-width="4.5"/>
<text transform="translate(1440.6,1373) scale(0.88,1)" font-family="'DejaVu Sans','Liberation Sans',sans-serif" font-size="38" text-anchor="middle" fill="#000">40</text>
<line x1="1463.84" y1="1317.9" x2="1463.84" y2="1325.4" stroke="#000" stroke-width="3.5"/>
<line x1="1487.08" y1="1317.9" x2="1487.08" y2="1325.4" stroke="#000" stroke-width="3.5"/>
<line x1="1510.32" y1="1317.9" x2="1510.32" y2="1325.4" stroke="#000" stroke-width="3.5"/>
<line x1="1533.56" y1="1317.9" x2="1533.56" y2="1325.4" stroke="#000" stroke-width="3.5"/>
<line x1="1556.8" y1="1317.9" x2="1556.8" y2="1330.9" stroke="#000" stroke-width="4.5"/>
<text transform="translate(1556.8,1373) scale(0.88,1)" font-family="'DejaVu Sans','Liberation Sans',sans-serif" font-size="38" text-anchor="middle" fill="#000">50</text>
<text transform="translate(1278.47,1419.5) scale(0.91,1)" font-family="'DejaVu Sans','Liberation Sans',sans-serif" font-size="36" text-anchor="middle" fill="#000">Amplitude (pm)</text>
<text transform="translate(875.2,1068.4) rotate(-90) scale(1.11,1)" font-family="'DejaVu Sans','Liberation Sans',sans-serif" font-size="33.3" text-anchor="middle" fill="#ff0000" dy="0.35em">Probability density</text>
<text transform="translate(1686.25,1071) rotate(-90) scale(1.07,1)" font-family="'DejaVu Sans','Liberation Sans',sans-serif" font-size="34.2" text-anchor="middle" fill="#1212ff" dy="0.35em">Count</text>
</g>
</svg>
</body></html>
